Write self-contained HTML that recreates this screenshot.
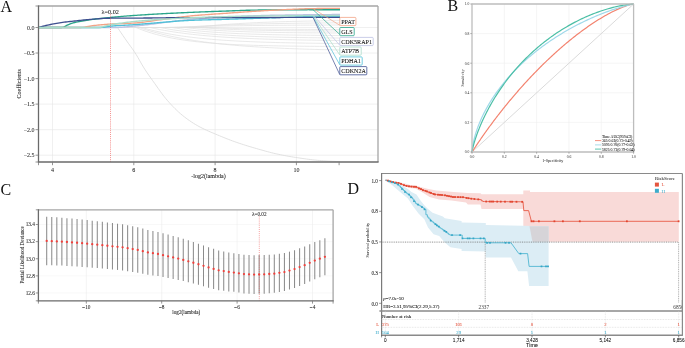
<!DOCTYPE html>
<html><head><meta charset="utf-8"><style>
html,body{margin:0;padding:0;background:#fff;width:685px;height:348px;overflow:hidden;}
svg{display:block;filter:blur(0.45px);}

</style></head><body>
<svg width="685" height="348" viewBox="0 0 685 348">
<rect width="685" height="348" fill="#fff"/>
<text x="0.6" y="11.6" font-size="16" fill="#111"  text-anchor="start" font-family='"Liberation Serif", serif' >A</text>
<text x="447.6" y="11.2" font-size="16" fill="#111"  text-anchor="start" font-family='"Liberation Serif", serif' >B</text>
<text x="0.6" y="194.6" font-size="16" fill="#111"  text-anchor="start" font-family='"Liberation Serif", serif' >C</text>
<text x="347.6" y="194.4" font-size="16" fill="#111"  text-anchor="start" font-family='"Liberation Serif", serif' >D</text>
<line x1="52.5" y1="6" x2="52.5" y2="162" stroke="#e6e6e6" stroke-width="0.6" />
<line x1="133.8" y1="6" x2="133.8" y2="162" stroke="#e6e6e6" stroke-width="0.6" />
<line x1="215.1" y1="6" x2="215.1" y2="162" stroke="#e6e6e6" stroke-width="0.6" />
<line x1="296.4" y1="6" x2="296.4" y2="162" stroke="#e6e6e6" stroke-width="0.6" />
<line x1="38.5" y1="27.5" x2="378" y2="27.5" stroke="#e6e6e6" stroke-width="0.6" />
<line x1="38.5" y1="53.04" x2="378" y2="53.04" stroke="#e6e6e6" stroke-width="0.6" />
<line x1="38.5" y1="78.58" x2="378" y2="78.58" stroke="#e6e6e6" stroke-width="0.6" />
<line x1="38.5" y1="104.12" x2="378" y2="104.12" stroke="#e6e6e6" stroke-width="0.6" />
<line x1="38.5" y1="129.66" x2="378" y2="129.66" stroke="#e6e6e6" stroke-width="0.6" />
<line x1="38.5" y1="155.2" x2="378" y2="155.2" stroke="#e6e6e6" stroke-width="0.6" />
<polyline points="38.5,27.5 136,27.5 141.1,29.56 146.2,31.4 151.3,33.04 156.4,34.5 161.5,35.81 166.6,36.98 171.7,38.02 176.8,38.95 181.9,39.78 187,40.52 192.1,41.19 197.2,41.78 202.3,42.31 207.4,42.78 212.5,43.2 217.6,43.57 222.7,43.91 227.8,44.21 232.9,44.48 238,44.72 243.1,44.93 248.2,45.12 253.3,45.29 258.4,45.44 263.5,45.58 268.6,45.7 273.7,45.81 278.8,45.9 283.9,45.99 289,46.07 294.1,46.13 299.2,46.2 304.3,46.25 309.4,46.3 314.5,46.34 319.6,46.38 324.7,46.42 329.8,46.45 334.9,46.48 340,46.5" fill="none" stroke="#e0e0e0" stroke-width="0.7" stroke-linejoin="round" />
<polyline points="38.5,27.5 139,27.5 144.03,29.15 149.05,30.69 154.07,32.12 159.1,33.45 164.12,34.69 169.15,35.85 174.18,36.92 179.2,37.92 184.22,38.85 189.25,39.72 194.28,40.52 199.3,41.27 204.32,41.97 209.35,42.62 214.38,43.22 219.4,43.79 224.43,44.31 229.45,44.8 234.47,45.25 239.5,45.68 244.53,46.07 249.55,46.43 254.57,46.77 259.6,47.09 264.62,47.39 269.65,47.66 274.68,47.92 279.7,48.15 284.73,48.38 289.75,48.58 294.77,48.77 299.8,48.95 304.82,49.12 309.85,49.27 314.88,49.42 319.9,49.55 324.93,49.68 329.95,49.79 334.98,49.9 340,50" fill="none" stroke="#e0e0e0" stroke-width="0.7" stroke-linejoin="round" />
<polyline points="38.5,27.5 142,27.5 146.95,28.92 151.9,30.21 156.85,31.39 161.8,32.47 166.75,33.46 171.7,34.36 176.65,35.19 181.6,35.94 186.55,36.63 191.5,37.26 196.45,37.84 201.4,38.36 206.35,38.84 211.3,39.28 216.25,39.69 221.2,40.05 226.15,40.39 231.1,40.69 236.05,40.97 241,41.23 245.95,41.46 250.9,41.68 255.85,41.87 260.8,42.05 265.75,42.22 270.7,42.36 275.65,42.5 280.6,42.63 285.55,42.74 290.5,42.84 295.45,42.94 300.4,43.03 305.35,43.11 310.3,43.18 315.25,43.24 320.2,43.31 325.15,43.36 330.1,43.41 335.05,43.46 340,43.5" fill="none" stroke="#e0e0e0" stroke-width="0.7" stroke-linejoin="round" />
<polyline points="38.5,27.5 150,27.5 154.75,28.53 159.5,29.49 164.25,30.37 169,31.18 173.75,31.94 178.5,32.63 183.25,33.27 188,33.87 192.75,34.42 197.5,34.92 202.25,35.39 207,35.82 211.75,36.22 216.5,36.59 221.25,36.93 226,37.25 230.75,37.54 235.5,37.81 240.25,38.06 245,38.29 249.75,38.5 254.5,38.69 259.25,38.87 264,39.04 268.75,39.2 273.5,39.34 278.25,39.47 283,39.59 287.75,39.71 292.5,39.81 297.25,39.91 302,39.99 306.75,40.08 311.5,40.15 316.25,40.22 321,40.29 325.75,40.35 330.5,40.4 335.25,40.45 340,40.5" fill="none" stroke="#e0e0e0" stroke-width="0.7" stroke-linejoin="round" />
<polyline points="38.5,27.5 160,27.5 164.5,28.36 169,29.15 173.5,29.88 178,30.55 182.5,31.16 187,31.73 191.5,32.26 196,32.74 200.5,33.19 205,33.6 209.5,33.98 214,34.33 218.5,34.65 223,34.94 227.5,35.21 232,35.47 236.5,35.7 241,35.91 245.5,36.11 250,36.29 254.5,36.46 259,36.61 263.5,36.75 268,36.88 272.5,37 277,37.11 281.5,37.22 286,37.31 290.5,37.4 295,37.48 299.5,37.55 304,37.62 308.5,37.68 313,37.74 317.5,37.79 322,37.84 326.5,37.88 331,37.93 335.5,37.96 340,38" fill="none" stroke="#e0e0e0" stroke-width="0.7" stroke-linejoin="round" />
<polyline points="38.5,27.5 172,27.5 176.2,28.17 180.4,28.78 184.6,29.35 188.8,29.87 193,30.34 197.2,30.78 201.4,31.18 205.6,31.56 209.8,31.9 214,32.21 218.2,32.5 222.4,32.76 226.6,33.01 230.8,33.23 235,33.44 239.2,33.63 243.4,33.8 247.6,33.96 251.8,34.11 256,34.24 260.2,34.37 264.4,34.48 268.6,34.59 272.8,34.68 277,34.77 281.2,34.85 285.4,34.93 289.6,35 293.8,35.06 298,35.12 302.2,35.17 306.4,35.22 310.6,35.27 314.8,35.31 319,35.35 323.2,35.39 327.4,35.42 331.6,35.45 335.8,35.47 340,35.5" fill="none" stroke="#e0e0e0" stroke-width="0.7" stroke-linejoin="round" />
<polyline points="38.5,27.5 185,27.5 188.88,27.97 192.75,28.4 196.62,28.79 200.5,29.16 204.38,29.49 208.25,29.79 212.12,30.07 216,30.33 219.88,30.56 223.75,30.78 227.62,30.98 231.5,31.16 235.38,31.33 239.25,31.48 243.12,31.62 247,31.75 250.88,31.87 254.75,31.98 258.62,32.07 262.5,32.17 266.38,32.25 270.25,32.33 274.12,32.4 278,32.46 281.88,32.52 285.75,32.58 289.62,32.63 293.5,32.67 297.38,32.71 301.25,32.75 305.12,32.79 309,32.82 312.88,32.85 316.75,32.88 320.62,32.9 324.5,32.93 328.38,32.95 332.25,32.97 336.12,32.98 340,33" fill="none" stroke="#e0e0e0" stroke-width="0.7" stroke-linejoin="round" />
<polyline points="38.5,27.5 198,27.5 201.55,27.78 205.1,28.03 208.65,28.27 212.2,28.49 215.75,28.69 219.3,28.88 222.85,29.05 226.4,29.21 229.95,29.36 233.5,29.49 237.05,29.62 240.6,29.74 244.15,29.84 247.7,29.94 251.25,30.04 254.8,30.12 258.35,30.2 261.9,30.27 265.45,30.34 269,30.4 272.55,30.46 276.1,30.51 279.65,30.56 283.2,30.61 286.75,30.65 290.3,30.69 293.85,30.72 297.4,30.75 300.95,30.78 304.5,30.81 308.05,30.84 311.6,30.86 315.15,30.89 318.7,30.91 322.25,30.92 325.8,30.94 329.35,30.96 332.9,30.97 336.45,30.99 340,31" fill="none" stroke="#e0e0e0" stroke-width="0.7" stroke-linejoin="round" />
<polyline points="38.5,27.5 210,27.5 213.25,27.66 216.5,27.81 219.75,27.95 223,28.08 226.25,28.19 229.5,28.3 232.75,28.4 236,28.49 239.25,28.58 242.5,28.66 245.75,28.73 249,28.8 252.25,28.86 255.5,28.91 258.75,28.97 262,29.01 265.25,29.06 268.5,29.1 271.75,29.14 275,29.17 278.25,29.2 281.5,29.23 284.75,29.26 288,29.28 291.25,29.31 294.5,29.33 297.75,29.35 301,29.37 304.25,29.38 307.5,29.4 310.75,29.41 314,29.43 317.25,29.44 320.5,29.45 323.75,29.46 327,29.47 330.25,29.48 333.5,29.49 336.75,29.49 340,29.5" fill="none" stroke="#e0e0e0" stroke-width="0.7" stroke-linejoin="round" />
<polyline points="38.5,27.5 165,27.5 169.38,27.33 173.75,27.18 178.12,27.03 182.5,26.9 186.88,26.77 191.25,26.65 195.62,26.53 200,26.43 204.38,26.33 208.75,26.23 213.12,26.15 217.5,26.06 221.88,25.99 226.25,25.91 230.62,25.84 235,25.78 239.38,25.72 243.75,25.66 248.12,25.61 252.5,25.56 256.88,25.51 261.25,25.47 265.62,25.42 270,25.38 274.38,25.35 278.75,25.31 283.12,25.28 287.5,25.25 291.88,25.22 296.25,25.19 300.62,25.17 305,25.15 309.38,25.12 313.75,25.1 318.12,25.08 322.5,25.06 326.88,25.05 331.25,25.03 335.62,25.01 340,25" fill="none" stroke="#e0e0e0" stroke-width="0.7" stroke-linejoin="round" />
<polyline points="38.5,27.5 180,27.5 184,27.21 188,26.93 192,26.68 196,26.43 200,26.2 204,25.98 208,25.78 212,25.58 216,25.4 220,25.22 224,25.06 228,24.9 232,24.76 236,24.62 240,24.49 244,24.36 248,24.25 252,24.14 256,24.03 260,23.94 264,23.84 268,23.76 272,23.67 276,23.6 280,23.52 284,23.45 288,23.39 292,23.32 296,23.27 300,23.21 304,23.16 308,23.11 312,23.06 316,23.02 320,22.98 324,22.94 328,22.9 332,22.86 336,22.83 340,22.8" fill="none" stroke="#e0e0e0" stroke-width="0.7" stroke-linejoin="round" />
<polyline points="38.5,27.5 195,27.5 198.62,27.06 202.25,26.64 205.88,26.24 209.5,25.87 213.12,25.52 216.75,25.2 220.38,24.89 224,24.6 227.62,24.32 231.25,24.06 234.88,23.82 238.5,23.59 242.12,23.38 245.75,23.18 249.38,22.99 253,22.81 256.62,22.64 260.25,22.48 263.88,22.33 267.5,22.19 271.12,22.05 274.75,21.93 278.38,21.81 282,21.7 285.62,21.6 289.25,21.5 292.88,21.41 296.5,21.32 300.12,21.24 303.75,21.16 307.38,21.09 311,21.02 314.62,20.96 318.25,20.9 321.88,20.84 325.5,20.78 329.12,20.73 332.75,20.69 336.38,20.64 340,20.6" fill="none" stroke="#e0e0e0" stroke-width="0.7" stroke-linejoin="round" />
<polyline points="117.5,27.5 119.35,30.27 121.21,33.01 123.06,35.73 124.92,38.43 126.77,41.1 128.62,43.68 130.48,46.22 132.33,48.79 134.19,51.46 136.04,54.32 137.9,57.44 139.75,60.72 141.6,64 143.46,67.13 145.31,70.03 147.17,72.81 149.02,75.5 150.88,78.13 152.73,80.72 154.58,83.32 156.44,85.94 158.29,88.57 160.15,91.17 162,93.71 163.85,96.16 165.71,98.48 167.56,100.64 169.42,102.72 171.27,104.74 173.12,106.69 174.98,108.58 176.83,110.38 178.69,112.11 180.54,113.76 182.4,115.31 184.25,116.78 186.1,118.2 187.96,119.55 189.81,120.85 191.67,122.1 193.52,123.29 195.38,124.43 197.23,125.51 199.08,126.55 200.94,127.53 202.79,128.46 204.65,129.36 206.5,130.22 208.35,131.05 210.21,131.86 212.06,132.65 213.92,133.43 215.77,134.21 217.62,134.99 219.48,135.76 221.33,136.53 223.19,137.28 225.04,138.03 226.9,138.76 228.75,139.48 230.6,140.19 232.46,140.88 234.31,141.55 236.17,142.21 238.02,142.85 239.88,143.47 241.73,144.09 243.58,144.68 245.44,145.27 247.29,145.85 249.15,146.41 251,146.97 252.85,147.52 254.71,148.06 256.56,148.59 258.42,149.12 260.27,149.65 262.12,150.17 263.98,150.69 265.83,151.21 267.69,151.71 269.54,152.2 271.4,152.68 273.25,153.14 275.1,153.58 276.96,153.99 278.81,154.39 280.67,154.77 282.52,155.15 284.38,155.51 286.23,155.86 288.08,156.2 289.94,156.52 291.79,156.84 293.65,157.14 295.5,157.42 297.35,157.7 299.21,157.98 301.06,158.25 302.92,158.52 304.77,158.78 306.62,159.04 308.48,159.29 310.33,159.52 312.19,159.75 314.04,159.96 315.9,160.15 317.75,160.33 319.6,160.49 321.46,160.63 323.31,160.76 325.17,160.89 327.02,161.01 328.88,161.13 330.73,161.23 332.58,161.33 334.44,161.42 336.29,161.49 338.15,161.55 340,161.6" fill="none" stroke="#d8d8d8" stroke-width="0.75" stroke-linejoin="round" />
<polyline points="38.5,27.5 40.01,27.5 41.52,27.5 43.02,27.5 44.53,27.5 46.04,27.5 47.55,27.5 49.05,27.5 50.56,27.5 52.07,27.5 53.58,27.5 55.08,27.5 56.59,27.5 58.1,27.5 59.61,27.5 61.11,27.5 62.62,27.5 64.13,27.5 65.64,27.5 67.14,27.5 68.65,27.5 70.16,27.5 71.66,27.5 73.17,27.5 74.68,27.5 76.19,27.5 77.69,27.5 79.2,27.5 80.71,27.5 82.22,27.5 83.72,27.5 85.23,27.5 86.74,27.5 88.25,27.5 89.75,27.5 91.26,27.5 92.77,27.5 94.28,27.5 95.78,27.5 97.29,27.5 98.8,27.5 100.31,27.5 101.81,27.5 103.32,27.5 104.83,27.5 106.34,27.5 107.84,27.5 109.35,27.5 110.86,27.5 112.37,27.5 113.88,27.5 115.38,27.5 116.89,27.48 118.4,27.43 119.91,27.35 121.41,27.26 122.92,27.15 124.43,27.02 125.94,26.89 127.44,26.74 128.95,26.59 130.46,26.44 131.97,26.29 133.47,26.14 134.98,26 136.49,25.86 138,25.72 139.5,25.57 141.01,25.41 142.52,25.25 144.03,25.08 145.53,24.9 147.04,24.72 148.55,24.54 150.06,24.35 151.56,24.16 153.07,23.97 154.58,23.78 156.08,23.58 157.59,23.38 159.1,23.18 160.61,22.98 162.12,22.77 163.62,22.57 165.13,22.37 166.64,22.17 168.15,21.97 169.65,21.77 171.16,21.58 172.67,21.39 174.18,21.2 175.68,21.01 177.19,20.83 178.7,20.65 180.21,20.48 181.71,20.31 183.22,20.15 184.73,19.99 186.24,19.84 187.74,19.7 189.25,19.56 190.76,19.44 192.26,19.31 193.77,19.19 195.28,19.06 196.79,18.94 198.29,18.82 199.8,18.71 201.31,18.59 202.82,18.48 204.32,18.37 205.83,18.26 207.34,18.15 208.85,18.05 210.35,17.94 211.86,17.84 213.37,17.74 214.88,17.65 216.38,17.55 217.89,17.46 219.4,17.37 220.91,17.28 222.41,17.2 223.92,17.11 225.43,17.03 226.94,16.95 228.44,16.88 229.95,16.8 231.46,16.73 232.97,16.66 234.47,16.59 235.98,16.52 237.49,16.45 239,16.38 240.5,16.31 242.01,16.24 243.52,16.18 245.03,16.11 246.53,16.05 248.04,15.99 249.55,15.93 251.06,15.87 252.56,15.81 254.07,15.76 255.58,15.7 257.09,15.65 258.6,15.6 260.1,15.56 261.61,15.51 263.12,15.47 264.62,15.43 266.13,15.39 267.64,15.35 269.15,15.32 270.65,15.29 272.16,15.26 273.67,15.23 275.18,15.2 276.69,15.17 278.19,15.15 279.7,15.12 281.21,15.09 282.72,15.07 284.22,15.05 285.73,15.02 287.24,15 288.75,14.98 290.25,14.96 291.76,14.94 293.27,14.92 294.77,14.9 296.28,14.88 297.79,14.86 299.3,14.84 300.81,14.83 302.31,14.81 303.82,14.79 305.33,14.78 306.83,14.76 308.34,14.75 309.85,14.73 311.36,14.72 312.87,14.7 314.37,14.69 315.88,14.67 317.39,14.66 318.89,14.65 320.4,14.63 321.91,14.62 323.42,14.61 324.93,14.6 326.43,14.59 327.94,14.57 329.45,14.56 330.95,14.55 332.46,14.54 333.97,14.53 335.48,14.52 336.99,14.52 338.49,14.51 340,14.5" fill="none" stroke="#bcc2e2" stroke-width="1.35" stroke-linejoin="round" />
<polyline points="38.5,27.5 40.01,27.5 41.52,27.5 43.02,27.5 44.53,27.5 46.04,27.5 47.55,27.5 49.05,27.5 50.56,27.5 52.07,27.5 53.58,27.5 55.08,27.5 56.59,27.5 58.1,27.5 59.61,27.5 61.11,27.5 62.62,27.5 64.13,27.5 65.64,27.5 67.14,27.5 68.65,27.5 70.16,27.5 71.66,27.5 73.17,27.5 74.68,27.5 76.19,27.5 77.69,27.5 79.2,27.5 80.71,27.5 82.22,27.5 83.72,27.5 85.23,27.5 86.74,27.5 88.25,27.5 89.75,27.5 91.26,27.5 92.77,27.5 94.28,27.5 95.78,27.5 97.29,27.5 98.8,27.5 100.31,27.5 101.81,27.41 103.32,27.23 104.83,26.99 106.34,26.73 107.84,26.47 109.35,26.27 110.86,26.12 112.37,26 113.88,25.88 115.38,25.77 116.89,25.67 118.4,25.57 119.91,25.48 121.41,25.4 122.92,25.31 124.43,25.23 125.94,25.14 127.44,25.06 128.95,24.98 130.46,24.89 131.97,24.8 133.47,24.7 134.98,24.6 136.49,24.5 138,24.39 139.5,24.27 141.01,24.16 142.52,24.04 144.03,23.92 145.53,23.79 147.04,23.67 148.55,23.54 150.06,23.41 151.56,23.28 153.07,23.14 154.58,23.01 156.08,22.88 157.59,22.75 159.1,22.61 160.61,22.48 162.12,22.35 163.62,22.22 165.13,22.09 166.64,21.96 168.15,21.84 169.65,21.71 171.16,21.59 172.67,21.47 174.18,21.36 175.68,21.25 177.19,21.14 178.7,21.03 180.21,20.93 181.71,20.84 183.22,20.74 184.73,20.66 186.24,20.58 187.74,20.5 189.25,20.43 190.76,20.37 192.26,20.31 193.77,20.25 195.28,20.19 196.79,20.14 198.29,20.09 199.8,20.04 201.31,19.99 202.82,19.95 204.32,19.9 205.83,19.86 207.34,19.82 208.85,19.78 210.35,19.74 211.86,19.7 213.37,19.66 214.88,19.62 216.38,19.58 217.89,19.54 219.4,19.5 220.91,19.46 222.41,19.42 223.92,19.38 225.43,19.34 226.94,19.29 228.44,19.25 229.95,19.2 231.46,19.15 232.97,19.11 234.47,19.06 235.98,19.01 237.49,18.96 239,18.91 240.5,18.86 242.01,18.81 243.52,18.76 245.03,18.72 246.53,18.67 248.04,18.62 249.55,18.57 251.06,18.52 252.56,18.47 254.07,18.42 255.58,18.37 257.09,18.32 258.6,18.27 260.1,18.22 261.61,18.17 263.12,18.12 264.62,18.07 266.13,18.02 267.64,17.97 269.15,17.93 270.65,17.88 272.16,17.83 273.67,17.78 275.18,17.73 276.69,17.68 278.19,17.63 279.7,17.58 281.21,17.52 282.72,17.47 284.22,17.42 285.73,17.36 287.24,17.31 288.75,17.26 290.25,17.21 291.76,17.16 293.27,17.11 294.77,17.06 296.28,17.01 297.79,16.96 299.3,16.92 300.81,16.87 302.31,16.83 303.82,16.79 305.33,16.76 306.83,16.72 308.34,16.69 309.85,16.66 311.36,16.63 312.87,16.6 314.37,16.58 315.88,16.56 317.39,16.53 318.89,16.51 320.4,16.49 321.91,16.47 323.42,16.45 324.93,16.43 326.43,16.41 327.94,16.39 329.45,16.38 330.95,16.36 332.46,16.35 333.97,16.34 335.48,16.32 336.99,16.31 338.49,16.31 340,16.3" fill="none" stroke="#4fc0d8" stroke-width="1.35" stroke-linejoin="round" />
<polyline points="38.5,27.5 40.01,27.5 41.52,27.5 43.02,27.5 44.53,27.5 46.04,27.5 47.55,27.5 49.05,27.5 50.56,27.5 52.07,27.5 53.58,27.5 55.08,27.5 56.59,27.5 58.1,27.5 59.61,27.5 61.11,27.5 62.62,27.44 64.13,26.91 65.64,26.07 67.14,25.2 68.65,24.55 70.16,23.96 71.66,23.41 73.17,22.91 74.68,22.48 76.19,22.12 77.69,21.8 79.2,21.5 80.71,21.22 82.22,20.96 83.72,20.71 85.23,20.48 86.74,20.26 88.25,20.05 89.75,19.83 91.26,19.63 92.77,19.43 94.28,19.23 95.78,19.04 97.29,18.86 98.8,18.68 100.31,18.51 101.81,18.34 103.32,18.18 104.83,18.02 106.34,17.87 107.84,17.71 109.35,17.56 110.86,17.42 112.37,17.27 113.88,17.13 115.38,16.99 116.89,16.85 118.4,16.71 119.91,16.58 121.41,16.45 122.92,16.32 124.43,16.2 125.94,16.07 127.44,15.95 128.95,15.84 130.46,15.72 131.97,15.61 133.47,15.51 134.98,15.4 136.49,15.3 138,15.2 139.5,15.1 141.01,15 142.52,14.91 144.03,14.81 145.53,14.72 147.04,14.62 148.55,14.53 150.06,14.44 151.56,14.35 153.07,14.26 154.58,14.18 156.08,14.09 157.59,14 159.1,13.92 160.61,13.84 162.12,13.76 163.62,13.68 165.13,13.6 166.64,13.52 168.15,13.44 169.65,13.36 171.16,13.29 172.67,13.21 174.18,13.14 175.68,13.06 177.19,12.99 178.7,12.92 180.21,12.85 181.71,12.77 183.22,12.71 184.73,12.64 186.24,12.57 187.74,12.5 189.25,12.43 190.76,12.37 192.26,12.3 193.77,12.24 195.28,12.18 196.79,12.11 198.29,12.05 199.8,11.99 201.31,11.93 202.82,11.88 204.32,11.82 205.83,11.76 207.34,11.71 208.85,11.65 210.35,11.6 211.86,11.54 213.37,11.49 214.88,11.44 216.38,11.38 217.89,11.33 219.4,11.28 220.91,11.22 222.41,11.17 223.92,11.12 225.43,11.06 226.94,11.01 228.44,10.96 229.95,10.9 231.46,10.85 232.97,10.79 234.47,10.73 235.98,10.67 237.49,10.61 239,10.55 240.5,10.49 242.01,10.44 243.52,10.38 245.03,10.33 246.53,10.29 248.04,10.25 249.55,10.21 251.06,10.18 252.56,10.15 254.07,10.12 255.58,10.09 257.09,10.06 258.6,10.04 260.1,10.01 261.61,9.99 263.12,9.97 264.62,9.95 266.13,9.94 267.64,9.92 269.15,9.91 270.65,9.9 272.16,9.88 273.67,9.87 275.18,9.86 276.69,9.85 278.19,9.84 279.7,9.83 281.21,9.82 282.72,9.81 284.22,9.8 285.73,9.79 287.24,9.78 288.75,9.77 290.25,9.77 291.76,9.76 293.27,9.75 294.77,9.74 296.28,9.74 297.79,9.73 299.3,9.73 300.81,9.72 302.31,9.72 303.82,9.71 305.33,9.71 306.83,9.71 308.34,9.7 309.85,9.7 311.36,9.7 312.87,9.7 314.37,9.7 315.88,9.7 317.39,9.7 318.89,9.7 320.4,9.7 321.91,9.7 323.42,9.7 324.93,9.7 326.43,9.7 327.94,9.7 329.45,9.7 330.95,9.7 332.46,9.7 333.97,9.7 335.48,9.7 336.99,9.7 338.49,9.7 340,9.7" fill="none" stroke="#2aa58a" stroke-width="1.35" stroke-linejoin="round" />
<polyline points="38.5,27.5 40.01,27.5 41.52,27.5 43.02,27.5 44.53,27.5 46.04,27.5 47.55,27.5 49.05,27.5 50.56,27.5 52.07,27.5 53.58,27.5 55.08,27.5 56.59,27.5 58.1,27.5 59.61,27.5 61.11,27.5 62.62,27.5 64.13,27.5 65.64,27.5 67.14,27.5 68.65,27.5 70.16,27.5 71.66,27.5 73.17,27.5 74.68,27.5 76.19,27.5 77.69,27.5 79.2,27.5 80.71,27.49 82.22,27.41 83.72,27.25 85.23,27.04 86.74,26.79 88.25,26.51 89.75,26.23 91.26,25.95 92.77,25.7 94.28,25.48 95.78,25.32 97.29,25.16 98.8,25.01 100.31,24.86 101.81,24.72 103.32,24.59 104.83,24.47 106.34,24.35 107.84,24.24 109.35,24.14 110.86,24.05 112.37,23.97 113.88,23.9 115.38,23.83 116.89,23.77 118.4,23.71 119.91,23.66 121.41,23.6 122.92,23.55 124.43,23.5 125.94,23.44 127.44,23.39 128.95,23.32 130.46,23.25 131.97,23.18 133.47,23.09 134.98,23 136.49,22.89 138,22.76 139.5,22.61 141.01,22.45 142.52,22.27 144.03,22.07 145.53,21.87 147.04,21.66 148.55,21.44 150.06,21.22 151.56,21 153.07,20.77 154.58,20.55 156.08,20.33 157.59,20.12 159.1,19.92 160.61,19.72 162.12,19.53 163.62,19.33 165.13,19.13 166.64,18.92 168.15,18.71 169.65,18.51 171.16,18.3 172.67,18.1 174.18,17.89 175.68,17.69 177.19,17.49 178.7,17.29 180.21,17.1 181.71,16.91 183.22,16.73 184.73,16.56 186.24,16.39 187.74,16.23 189.25,16.07 190.76,15.93 192.26,15.79 193.77,15.65 195.28,15.52 196.79,15.39 198.29,15.27 199.8,15.15 201.31,15.03 202.82,14.91 204.32,14.8 205.83,14.68 207.34,14.57 208.85,14.47 210.35,14.36 211.86,14.25 213.37,14.15 214.88,14.04 216.38,13.94 217.89,13.84 219.4,13.74 220.91,13.63 222.41,13.53 223.92,13.43 225.43,13.32 226.94,13.22 228.44,13.11 229.95,13 231.46,12.89 232.97,12.79 234.47,12.68 235.98,12.57 237.49,12.46 239,12.35 240.5,12.25 242.01,12.14 243.52,12.03 245.03,11.93 246.53,11.83 248.04,11.73 249.55,11.63 251.06,11.53 252.56,11.43 254.07,11.34 255.58,11.24 257.09,11.15 258.6,11.05 260.1,10.96 261.61,10.87 263.12,10.78 264.62,10.69 266.13,10.61 267.64,10.52 269.15,10.44 270.65,10.37 272.16,10.29 273.67,10.21 275.18,10.14 276.69,10.06 278.19,9.98 279.7,9.9 281.21,9.82 282.72,9.75 284.22,9.67 285.73,9.6 287.24,9.52 288.75,9.45 290.25,9.38 291.76,9.31 293.27,9.24 294.77,9.17 296.28,9.11 297.79,9.05 299.3,8.99 300.81,8.93 302.31,8.88 303.82,8.83 305.33,8.78 306.83,8.74 308.34,8.7 309.85,8.66 311.36,8.63 312.87,8.6 314.37,8.58 315.88,8.55 317.39,8.53 318.89,8.5 320.4,8.48 321.91,8.46 323.42,8.43 324.93,8.41 326.43,8.39 327.94,8.38 329.45,8.36 330.95,8.34 332.46,8.33 333.97,8.32 335.48,8.31 336.99,8.31 338.49,8.3 340,8.3" fill="none" stroke="#f2a386" stroke-width="1.35" stroke-linejoin="round" />
<polyline points="38.5,27.5 40.01,27.07 41.52,26.65 43.02,26.25 44.53,25.86 46.04,25.49 47.55,25.13 49.05,24.8 50.56,24.49 52.07,24.18 53.58,23.89 55.08,23.61 56.59,23.34 58.1,23.09 59.61,22.84 61.11,22.61 62.62,22.39 64.13,22.18 65.64,21.99 67.14,21.82 68.65,21.66 70.16,21.5 71.66,21.35 73.17,21.19 74.68,21.03 76.19,20.87 77.69,20.7 79.2,20.52 80.71,20.35 82.22,20.18 83.72,20.01 85.23,19.84 86.74,19.69 88.25,19.55 89.75,19.42 91.26,19.3 92.77,19.18 94.28,19.06 95.78,18.94 97.29,18.82 98.8,18.71 100.31,18.6 101.81,18.51 103.32,18.42 104.83,18.34 106.34,18.28 107.84,18.24 109.35,18.21 110.86,18.19 112.37,18.18 113.88,18.17 115.38,18.17 116.89,18.16 118.4,18.15 119.91,18.15 121.41,18.15 122.92,18.14 124.43,18.14 125.94,18.13 127.44,18.13 128.95,18.12 130.46,18.12 131.97,18.11 133.47,18.11 134.98,18.1 136.49,18.09 138,18.08 139.5,18.07 141.01,18.06 142.52,18.05 144.03,18.04 145.53,18.02 147.04,18.01 148.55,17.99 150.06,17.98 151.56,17.96 153.07,17.95 154.58,17.93 156.08,17.91 157.59,17.9 159.1,17.88 160.61,17.86 162.12,17.84 163.62,17.83 165.13,17.81 166.64,17.79 168.15,17.78 169.65,17.76 171.16,17.74 172.67,17.73 174.18,17.71 175.68,17.7 177.19,17.69 178.7,17.67 180.21,17.66 181.71,17.65 183.22,17.64 184.73,17.63 186.24,17.62 187.74,17.61 189.25,17.6 190.76,17.6 192.26,17.59 193.77,17.59 195.28,17.58 196.79,17.58 198.29,17.57 199.8,17.57 201.31,17.56 202.82,17.56 204.32,17.55 205.83,17.55 207.34,17.55 208.85,17.54 210.35,17.54 211.86,17.54 213.37,17.53 214.88,17.53 216.38,17.53 217.89,17.52 219.4,17.52 220.91,17.52 222.41,17.51 223.92,17.51 225.43,17.51 226.94,17.51 228.44,17.5 229.95,17.5 231.46,17.5 232.97,17.5 234.47,17.49 235.98,17.49 237.49,17.49 239,17.49 240.5,17.48 242.01,17.48 243.52,17.48 245.03,17.48 246.53,17.48 248.04,17.48 249.55,17.47 251.06,17.47 252.56,17.47 254.07,17.47 255.58,17.47 257.09,17.47 258.6,17.46 260.1,17.46 261.61,17.46 263.12,17.46 264.62,17.46 266.13,17.46 267.64,17.46 269.15,17.46 270.65,17.45 272.16,17.45 273.67,17.45 275.18,17.45 276.69,17.45 278.19,17.45 279.7,17.45 281.21,17.44 282.72,17.44 284.22,17.44 285.73,17.44 287.24,17.44 288.75,17.44 290.25,17.43 291.76,17.43 293.27,17.43 294.77,17.43 296.28,17.43 297.79,17.43 299.3,17.42 300.81,17.42 302.31,17.42 303.82,17.42 305.33,17.41 306.83,17.41 308.34,17.41 309.85,17.41 311.36,17.4 312.87,17.4 314.37,17.4 315.88,17.39 317.39,17.39 318.89,17.38 320.4,17.38 321.91,17.38 323.42,17.37 324.93,17.36 326.43,17.36 327.94,17.35 329.45,17.35 330.95,17.34 332.46,17.33 333.97,17.33 335.48,17.32 336.99,17.31 338.49,17.31 340,17.3" fill="none" stroke="#3e4f8f" stroke-width="1.35" stroke-linejoin="round" />
<polyline points="38.5,27.5 40.01,27.5 41.52,27.5 43.02,27.5 44.53,27.5 46.04,27.5 47.55,27.5 49.05,27.5 50.56,27.5 52.07,27.5 53.58,27.5 55.08,27.5 56.59,27.5 58.1,27.5 59.61,27.5 61.11,27.5 62.62,27.5 64.13,27.5 65.64,27.5 67.14,27.5 68.65,27.5 70.16,27.5 71.66,27.5 73.17,27.5 74.68,27.5 76.19,27.5 77.69,27.5 79.2,27.5 80.71,27.5 82.22,27.5 83.72,27.5 85.23,27.5 86.74,27.5 88.25,27.5 89.75,27.5 91.26,27.5 92.77,27.5 94.28,27.5 95.78,27.5 97.29,27.5 98.8,27.48 100.31,27.31 101.81,27.02 103.32,26.65 104.83,26.22 106.34,25.79 107.84,25.37 109.35,25.02 110.86,24.75 112.37,24.49 113.88,24.24 115.38,23.99 116.89,23.75 118.4,23.51 119.91,23.28 121.41,23.05 122.92,22.84 124.43,22.63 125.94,22.43 127.44,22.23 128.95,22.05 130.46,21.87 131.97,21.7 133.47,21.55 134.98,21.4 136.49,21.26 138,21.13 139.5,20.99 141.01,20.86 142.52,20.73 144.03,20.6 145.53,20.48 147.04,20.36 148.55,20.24 150.06,20.12 151.56,20.01 153.07,19.9 154.58,19.79 156.08,19.68 157.59,19.58 159.1,19.47 160.61,19.37 162.12,19.28 163.62,19.18 165.13,19.09 166.64,18.99 168.15,18.9 169.65,18.82 171.16,18.73 172.67,18.64 174.18,18.56 175.68,18.48 177.19,18.4 178.7,18.33 180.21,18.25 181.71,18.18 183.22,18.1 184.73,18.03 186.24,17.97 187.74,17.9 189.25,17.83 190.76,17.77 192.26,17.7 193.77,17.64 195.28,17.58 196.79,17.52 198.29,17.46 199.8,17.4 201.31,17.35 202.82,17.29 204.32,17.23 205.83,17.18 207.34,17.13 208.85,17.08 210.35,17.03 211.86,16.98 213.37,16.93 214.88,16.89 216.38,16.84 217.89,16.8 219.4,16.75 220.91,16.71 222.41,16.68 223.92,16.64 225.43,16.6 226.94,16.57 228.44,16.53 229.95,16.5 231.46,16.47 232.97,16.44 234.47,16.41 235.98,16.38 237.49,16.35 239,16.33 240.5,16.3 242.01,16.27 243.52,16.25 245.03,16.22 246.53,16.2 248.04,16.18 249.55,16.15 251.06,16.13 252.56,16.11 254.07,16.09 255.58,16.07 257.09,16.05 258.6,16.03 260.1,16.01 261.61,15.99 263.12,15.97 264.62,15.96 266.13,15.94 267.64,15.92 269.15,15.91 270.65,15.89 272.16,15.88 273.67,15.87 275.18,15.85 276.69,15.84 278.19,15.83 279.7,15.81 281.21,15.8 282.72,15.79 284.22,15.78 285.73,15.77 287.24,15.75 288.75,15.74 290.25,15.73 291.76,15.72 293.27,15.71 294.77,15.7 296.28,15.69 297.79,15.68 299.3,15.67 300.81,15.66 302.31,15.66 303.82,15.65 305.33,15.64 306.83,15.63 308.34,15.62 309.85,15.62 311.36,15.61 312.87,15.6 314.37,15.59 315.88,15.59 317.39,15.58 318.89,15.57 320.4,15.57 321.91,15.56 323.42,15.55 324.93,15.55 326.43,15.54 327.94,15.54 329.45,15.53 330.95,15.53 332.46,15.52 333.97,15.52 335.48,15.51 336.99,15.51 338.49,15.5 340,15.5" fill="none" stroke="#a9dcc9" stroke-width="1.35" stroke-linejoin="round" />
<line x1="313" y1="14.7" x2="339.8" y2="45.3" stroke="#bcc2e2" stroke-width="0.7" />
<line x1="313" y1="16.6" x2="339.8" y2="64.8" stroke="#4fc0d8" stroke-width="0.7" />
<line x1="313" y1="9.7" x2="339.8" y2="34.5" stroke="#2aa58a" stroke-width="0.7" />
<line x1="313" y1="8.6" x2="339.8" y2="25.3" stroke="#f2a386" stroke-width="0.7" />
<line x1="313" y1="17.4" x2="339.8" y2="74.7" stroke="#3e4f8f" stroke-width="0.7" />
<line x1="313" y1="15.6" x2="339.8" y2="55" stroke="#a9dcc9" stroke-width="0.7" />
<rect x="339.8" y="17.4" width="16.1" height="8.2" rx="0.8" fill="#fff" stroke="#f2a386" stroke-width="0.8"/>
<text x="341.2" y="23.7" font-size="6.1" fill="#0c0c0c" stroke="#0c0c0c" stroke-width="0.06" text-anchor="start" font-family='"Liberation Serif", serif' >PPAT</text>
<rect x="339.8" y="27.5" width="14.4" height="8.2" rx="0.8" fill="#fff" stroke="#2aa58a" stroke-width="0.8"/>
<text x="341.2" y="33.8" font-size="6.1" fill="#0c0c0c" stroke="#0c0c0c" stroke-width="0.06" text-anchor="start" font-family='"Liberation Serif", serif' >GLS</text>
<rect x="339.8" y="37.4" width="33.4" height="8.2" rx="0.8" fill="#fff" stroke="#bcc2e2" stroke-width="0.8"/>
<text x="341.2" y="43.7" font-size="6.1" fill="#0c0c0c" stroke="#0c0c0c" stroke-width="0.06" text-anchor="start" font-family='"Liberation Serif", serif' >CDK5RAP1</text>
<rect x="339.8" y="47" width="21.4" height="8.2" rx="0.8" fill="#fff" stroke="#a9dcc9" stroke-width="0.8"/>
<text x="341.2" y="53.3" font-size="6.1" fill="#0c0c0c" stroke="#0c0c0c" stroke-width="0.06" text-anchor="start" font-family='"Liberation Serif", serif' >ATP7B</text>
<rect x="339.8" y="56.9" width="22.4" height="8.2" rx="0.8" fill="#fff" stroke="#4fc0d8" stroke-width="0.8"/>
<text x="341.2" y="63.2" font-size="6.1" fill="#0c0c0c" stroke="#0c0c0c" stroke-width="0.06" text-anchor="start" font-family='"Liberation Serif", serif' >PDHA1</text>
<rect x="339.8" y="66.6" width="27" height="8.2" rx="0.8" fill="#fff" stroke="#3e4f8f" stroke-width="0.8"/>
<text x="341.2" y="72.9" font-size="6.1" fill="#0c0c0c" stroke="#0c0c0c" stroke-width="0.06" text-anchor="start" font-family='"Liberation Serif", serif' >CDKN2A</text>
<line x1="110.5" y1="14.3" x2="110.5" y2="162" stroke="#ef5350" stroke-width="0.65" stroke-dasharray="1.0,1.1"/>
<text x="110.2" y="13.5" font-size="6.2" fill="#161616" stroke="#161616" stroke-width="0.06" text-anchor="middle" font-family='"Liberation Serif", serif' >&#955;=0.02</text>
<line x1="38.5" y1="6" x2="378" y2="6" stroke="#a6a6a6" stroke-width="1.3" />
<line x1="378" y1="6" x2="378" y2="162" stroke="#a6a6a6" stroke-width="1.3" />
<line x1="38.5" y1="5.4" x2="38.5" y2="162.6" stroke="#6a6a6a" stroke-width="1.3" />
<line x1="37.9" y1="162" x2="378.6" y2="162" stroke="#6a6a6a" stroke-width="1.3" />
<line x1="35.5" y1="27.5" x2="38.5" y2="27.5" stroke="#7a7a7a" stroke-width="0.8" />
<text x="34.6" y="29.6" font-size="6" fill="#262626" stroke="#262626" stroke-width="0.06" text-anchor="end" font-family='"Liberation Serif", serif' >0.0</text>
<line x1="35.5" y1="53.04" x2="38.5" y2="53.04" stroke="#7a7a7a" stroke-width="0.8" />
<text x="34.6" y="55.14" font-size="6" fill="#262626" stroke="#262626" stroke-width="0.06" text-anchor="end" font-family='"Liberation Serif", serif' >&#8722;0.5</text>
<line x1="35.5" y1="78.58" x2="38.5" y2="78.58" stroke="#7a7a7a" stroke-width="0.8" />
<text x="34.6" y="80.68" font-size="6" fill="#262626" stroke="#262626" stroke-width="0.06" text-anchor="end" font-family='"Liberation Serif", serif' >&#8722;1.0</text>
<line x1="35.5" y1="104.12" x2="38.5" y2="104.12" stroke="#7a7a7a" stroke-width="0.8" />
<text x="34.6" y="106.22" font-size="6" fill="#262626" stroke="#262626" stroke-width="0.06" text-anchor="end" font-family='"Liberation Serif", serif' >&#8722;1.5</text>
<line x1="35.5" y1="129.66" x2="38.5" y2="129.66" stroke="#7a7a7a" stroke-width="0.8" />
<text x="34.6" y="131.76" font-size="6" fill="#262626" stroke="#262626" stroke-width="0.06" text-anchor="end" font-family='"Liberation Serif", serif' >&#8722;2.0</text>
<line x1="35.5" y1="155.2" x2="38.5" y2="155.2" stroke="#7a7a7a" stroke-width="0.8" />
<text x="34.6" y="157.3" font-size="6" fill="#262626" stroke="#262626" stroke-width="0.06" text-anchor="end" font-family='"Liberation Serif", serif' >&#8722;2.5</text>
<line x1="35.5" y1="6" x2="38.5" y2="6" stroke="#7a7a7a" stroke-width="0.8" />
<line x1="35.5" y1="162" x2="38.5" y2="162" stroke="#7a7a7a" stroke-width="0.8" />
<line x1="52.5" y1="162" x2="52.5" y2="165.2" stroke="#7a7a7a" stroke-width="0.8" />
<text x="52.5" y="171.5" font-size="6" fill="#262626" stroke="#262626" stroke-width="0.06" text-anchor="middle" font-family='"Liberation Serif", serif' >4</text>
<line x1="133.8" y1="162" x2="133.8" y2="165.2" stroke="#7a7a7a" stroke-width="0.8" />
<text x="133.8" y="171.5" font-size="6" fill="#262626" stroke="#262626" stroke-width="0.06" text-anchor="middle" font-family='"Liberation Serif", serif' >6</text>
<line x1="215.1" y1="162" x2="215.1" y2="165.2" stroke="#7a7a7a" stroke-width="0.8" />
<text x="215.1" y="171.5" font-size="6" fill="#262626" stroke="#262626" stroke-width="0.06" text-anchor="middle" font-family='"Liberation Serif", serif' >8</text>
<line x1="296.4" y1="162" x2="296.4" y2="165.2" stroke="#7a7a7a" stroke-width="0.8" />
<text x="296.4" y="171.5" font-size="6" fill="#262626" stroke="#262626" stroke-width="0.06" text-anchor="middle" font-family='"Liberation Serif", serif' >10</text>
<line x1="38.5" y1="162" x2="38.5" y2="165.2" stroke="#7a7a7a" stroke-width="0.8" />
<line x1="339.1" y1="162" x2="339.1" y2="165.2" stroke="#7a7a7a" stroke-width="0.8" />
<text x="208.5" y="178.3" font-size="6" fill="#161616" stroke="#161616" stroke-width="0.06" text-anchor="middle" font-family='"Liberation Serif", serif' >-log2(lambda)</text>
<text x="0" y="0" font-size="6" fill="#161616" stroke="#161616" stroke-width="0.06" text-anchor="middle" font-family='"Liberation Serif", serif' transform="translate(21,83.8) rotate(-90)">Coefficients</text>
<line x1="504.32" y1="4" x2="504.32" y2="152" stroke="#eeeeee" stroke-width="0.6" />
<line x1="472" y1="122.4" x2="633.6" y2="122.4" stroke="#eeeeee" stroke-width="0.6" />
<line x1="536.64" y1="4" x2="536.64" y2="152" stroke="#eeeeee" stroke-width="0.6" />
<line x1="472" y1="92.8" x2="633.6" y2="92.8" stroke="#eeeeee" stroke-width="0.6" />
<line x1="568.96" y1="4" x2="568.96" y2="152" stroke="#eeeeee" stroke-width="0.6" />
<line x1="472" y1="63.2" x2="633.6" y2="63.2" stroke="#eeeeee" stroke-width="0.6" />
<line x1="601.28" y1="4" x2="601.28" y2="152" stroke="#eeeeee" stroke-width="0.6" />
<line x1="472" y1="33.6" x2="633.6" y2="33.6" stroke="#eeeeee" stroke-width="0.6" />
<line x1="472" y1="152" x2="633.6" y2="4" stroke="#d6d6d6" stroke-width="0.9" />
<polyline points="472,152 472,152 472.01,151.99 472.02,151.98 472.03,151.96 472.05,151.94 472.07,151.91 472.1,151.87 472.14,151.82 472.18,151.76 472.22,151.69 472.27,151.62 472.33,151.53 472.4,151.44 472.47,151.33 472.54,151.22 472.62,151.09 472.71,150.96 472.81,150.81 472.91,150.66 473.02,150.49 473.14,150.32 473.26,150.13 473.39,149.94 473.52,149.73 473.67,149.51 473.82,149.28 473.97,149.04 474.14,148.79 474.31,148.53 474.49,148.26 474.67,147.98 474.87,147.68 475.07,147.38 475.28,147.07 475.49,146.74 475.72,146.4 475.95,146.05 476.19,145.7 476.43,145.33 476.68,144.95 476.95,144.55 477.22,144.15 477.49,143.74 477.78,143.32 478.07,142.88 478.37,142.44 478.68,141.98 479,141.51 479.32,141.04 479.65,140.55 480,140.05 480.34,139.54 480.7,139.02 481.07,138.49 481.44,137.95 481.82,137.4 482.21,136.84 482.61,136.27 483.02,135.69 483.43,135.09 483.85,134.49 484.29,133.88 484.73,133.26 485.18,132.63 485.63,131.98 486.1,131.33 486.57,130.67 487.06,130 487.55,129.32 488.05,128.63 488.56,127.93 489.07,127.22 489.6,126.5 490.13,125.77 490.68,125.04 491.23,124.29 491.79,123.53 492.36,122.77 492.94,122 493.53,121.21 494.12,120.42 494.73,119.62 495.34,118.81 495.97,118 496.6,117.17 497.24,116.34 497.89,115.49 498.55,114.64 499.22,113.79 499.89,112.92 500.58,112.04 501.28,111.16 501.98,110.27 502.69,109.38 503.42,108.47 504.15,107.56 504.89,106.64 505.64,105.71 506.4,104.78 507.17,103.84 507.95,102.89 508.74,101.93 509.53,100.97 510.34,100 511.16,99.03 511.98,98.05 512.81,97.06 513.66,96.07 514.51,95.07 515.37,94.06 516.25,93.05 517.13,92.03 518.02,91.01 518.92,89.98 519.83,88.95 520.75,87.91 521.68,86.87 522.62,85.82 523.57,84.77 524.53,83.71 525.49,82.65 526.47,81.58 527.46,80.51 528.46,79.43 529.46,78.35 530.48,77.27 531.5,76.19 532.54,75.1 533.58,74 534.64,72.91 535.7,71.81 536.78,70.71 537.86,69.6 538.96,68.5 540.06,67.39 541.18,66.27 542.3,65.16 543.43,64.05 544.58,62.93 545.73,61.81 546.9,60.69 548.07,59.57 549.25,58.45 550.45,57.33 551.65,56.2 552.86,55.08 554.09,53.96 555.32,52.84 556.56,51.71 557.82,50.59 559.08,49.47 560.36,48.35 561.64,47.23 562.93,46.12 564.24,45 565.55,43.89 566.88,42.78 568.21,41.67 569.55,40.56 570.91,39.46 572.27,38.36 573.65,37.27 575.04,36.18 576.43,35.09 577.84,34.01 579.25,32.94 580.68,31.87 582.12,30.8 583.56,29.74 585.02,28.69 586.49,27.65 587.97,26.61 589.46,25.58 590.96,24.56 592.46,23.55 593.98,22.54 595.51,21.55 597.05,20.57 598.61,19.6 600.17,18.64 601.74,17.69 603.32,16.76 604.91,15.84 606.52,14.94 608.13,14.05 609.75,13.18 611.39,12.33 613.03,11.49 614.69,10.68 616.36,9.89 618.03,9.13 619.72,8.39 621.42,7.68 623.13,7 624.85,6.36 626.57,5.75 628.32,5.2 630.07,4.7 631.83,4.28 633.6,4" fill="none" stroke="#f3836f" stroke-width="1.2" stroke-linejoin="round" />
<polyline points="472,152 472,151.93 472.01,151.78 472.02,151.57 472.03,151.33 472.05,151.05 472.07,150.74 472.1,150.39 472.14,150.03 472.18,149.63 472.22,149.22 472.27,148.78 472.33,148.33 472.4,147.86 472.47,147.37 472.54,146.86 472.62,146.34 472.71,145.8 472.81,145.25 472.91,144.68 473.02,144.1 473.14,143.51 473.26,142.91 473.39,142.29 473.52,141.67 473.67,141.03 473.82,140.38 473.97,139.73 474.14,139.06 474.31,138.38 474.49,137.7 474.67,137.01 474.87,136.31 475.07,135.6 475.28,134.88 475.49,134.16 475.72,133.43 475.95,132.69 476.19,131.94 476.43,131.19 476.68,130.43 476.95,129.67 477.22,128.9 477.49,128.13 477.78,127.34 478.07,126.56 478.37,125.77 478.68,124.97 479,124.17 479.32,123.36 479.65,122.55 480,121.74 480.34,120.92 480.7,120.1 481.07,119.27 481.44,118.44 481.82,117.6 482.21,116.77 482.61,115.93 483.02,115.08 483.43,114.23 483.85,113.38 484.29,112.53 484.73,111.67 485.18,110.81 485.63,109.95 486.1,109.09 486.57,108.22 487.06,107.35 487.55,106.48 488.05,105.61 488.56,104.73 489.07,103.85 489.6,102.97 490.13,102.09 490.68,101.21 491.23,100.33 491.79,99.44 492.36,98.56 492.94,97.67 493.53,96.78 494.12,95.89 494.73,95 495.34,94.11 495.97,93.21 496.6,92.32 497.24,91.43 497.89,90.53 498.55,89.64 499.22,88.74 499.89,87.84 500.58,86.95 501.28,86.05 501.98,85.15 502.69,84.26 503.42,83.36 504.15,82.46 504.89,81.57 505.64,80.67 506.4,79.77 507.17,78.88 507.95,77.98 508.74,77.09 509.53,76.19 510.34,75.3 511.16,74.41 511.98,73.51 512.81,72.62 513.66,71.73 514.51,70.84 515.37,69.95 516.25,69.07 517.13,68.18 518.02,67.3 518.92,66.41 519.83,65.53 520.75,64.65 521.68,63.77 522.62,62.89 523.57,62.01 524.53,61.14 525.49,60.27 526.47,59.4 527.46,58.53 528.46,57.66 529.46,56.79 530.48,55.93 531.5,55.07 532.54,54.21 533.58,53.35 534.64,52.5 535.7,51.65 536.78,50.8 537.86,49.95 538.96,49.1 540.06,48.26 541.18,47.42 542.3,46.59 543.43,45.75 544.58,44.92 545.73,44.09 546.9,43.27 548.07,42.45 549.25,41.63 550.45,40.81 551.65,40 552.86,39.19 554.09,38.39 555.32,37.59 556.56,36.79 557.82,36 559.08,35.21 560.36,34.42 561.64,33.64 562.93,32.86 564.24,32.08 565.55,31.32 566.88,30.55 568.21,29.79 569.55,29.03 570.91,28.28 572.27,27.53 573.65,26.79 575.04,26.05 576.43,25.32 577.84,24.59 579.25,23.87 580.68,23.15 582.12,22.44 583.56,21.74 585.02,21.04 586.49,20.34 587.97,19.65 589.46,18.97 590.96,18.3 592.46,17.63 593.98,16.97 595.51,16.31 597.05,15.66 598.61,15.02 600.17,14.39 601.74,13.76 603.32,13.14 604.91,12.53 606.52,11.93 608.13,11.34 609.75,10.76 611.39,10.18 613.03,9.62 614.69,9.07 616.36,8.52 618.03,7.99 619.72,7.48 621.42,6.97 623.13,6.48 624.85,6.01 626.57,5.55 628.32,5.12 630.07,4.7 631.83,4.32 633.6,4" fill="none" stroke="#9fd9ea" stroke-width="1.2" stroke-linejoin="round" />
<polyline points="472,152 472,151.99 472.01,151.94 472.02,151.87 472.03,151.77 472.05,151.64 472.07,151.49 472.1,151.32 472.14,151.12 472.18,150.89 472.22,150.65 472.27,150.38 472.33,150.09 472.4,149.78 472.47,149.44 472.54,149.09 472.62,148.72 472.71,148.33 472.81,147.92 472.91,147.5 473.02,147.05 473.14,146.59 473.26,146.12 473.39,145.62 473.52,145.11 473.67,144.59 473.82,144.05 473.97,143.49 474.14,142.92 474.31,142.34 474.49,141.74 474.67,141.13 474.87,140.5 475.07,139.86 475.28,139.21 475.49,138.55 475.72,137.87 475.95,137.19 476.19,136.49 476.43,135.78 476.68,135.06 476.95,134.33 477.22,133.58 477.49,132.83 477.78,132.07 478.07,131.3 478.37,130.52 478.68,129.72 479,128.92 479.32,128.12 479.65,127.3 480,126.47 480.34,125.64 480.7,124.8 481.07,123.95 481.44,123.09 481.82,122.22 482.21,121.35 482.61,120.47 483.02,119.59 483.43,118.7 483.85,117.8 484.29,116.89 484.73,115.98 485.18,115.07 485.63,114.15 486.1,113.22 486.57,112.29 487.06,111.35 487.55,110.41 488.05,109.46 488.56,108.51 489.07,107.56 489.6,106.6 490.13,105.63 490.68,104.67 491.23,103.7 491.79,102.72 492.36,101.74 492.94,100.76 493.53,99.78 494.12,98.79 494.73,97.8 495.34,96.81 495.97,95.82 496.6,94.82 497.24,93.82 497.89,92.82 498.55,91.82 499.22,90.82 499.89,89.82 500.58,88.81 501.28,87.8 501.98,86.79 502.69,85.79 503.42,84.78 504.15,83.77 504.89,82.76 505.64,81.75 506.4,80.74 507.17,79.73 507.95,78.71 508.74,77.7 509.53,76.7 510.34,75.69 511.16,74.68 511.98,73.67 512.81,72.66 513.66,71.66 514.51,70.66 515.37,69.65 516.25,68.65 517.13,67.65 518.02,66.66 518.92,65.66 519.83,64.67 520.75,63.68 521.68,62.69 522.62,61.7 523.57,60.72 524.53,59.74 525.49,58.76 526.47,57.79 527.46,56.82 528.46,55.85 529.46,54.88 530.48,53.92 531.5,52.97 532.54,52.01 533.58,51.06 534.64,50.12 535.7,49.18 536.78,48.24 537.86,47.31 538.96,46.38 540.06,45.46 541.18,44.54 542.3,43.63 543.43,42.72 544.58,41.82 545.73,40.92 546.9,40.03 548.07,39.15 549.25,38.27 550.45,37.39 551.65,36.53 552.86,35.67 554.09,34.81 555.32,33.96 556.56,33.12 557.82,32.29 559.08,31.46 560.36,30.64 561.64,29.83 562.93,29.03 564.24,28.23 565.55,27.44 566.88,26.66 568.21,25.88 569.55,25.12 570.91,24.36 572.27,23.61 573.65,22.87 575.04,22.14 576.43,21.42 577.84,20.71 579.25,20.01 580.68,19.32 582.12,18.63 583.56,17.96 585.02,17.3 586.49,16.65 587.97,16.01 589.46,15.38 590.96,14.76 592.46,14.15 593.98,13.56 595.51,12.97 597.05,12.4 598.61,11.84 600.17,11.3 601.74,10.77 603.32,10.25 604.91,9.74 606.52,9.25 608.13,8.78 609.75,8.32 611.39,7.87 613.03,7.44 614.69,7.03 616.36,6.64 618.03,6.26 619.72,5.91 621.42,5.57 623.13,5.26 624.85,4.97 626.57,4.7 628.32,4.47 630.07,4.26 631.83,4.1 633.6,4" fill="none" stroke="#4cbfa6" stroke-width="1.2" stroke-linejoin="round" />
<line x1="472" y1="4" x2="633.6" y2="4" stroke="#bdbdbd" stroke-width="1.3" />
<line x1="633.6" y1="4" x2="633.6" y2="152" stroke="#bdbdbd" stroke-width="1.3" />
<line x1="472" y1="3.4" x2="472" y2="152.6" stroke="#bdbdbd" stroke-width="1.3" />
<line x1="471.4" y1="152" x2="634.2" y2="152" stroke="#bdbdbd" stroke-width="1.3" />
<line x1="470.2" y1="152" x2="472" y2="152" stroke="#888" stroke-width="0.6" />
<text x="469.3" y="153.3" font-size="3.7" fill="#262626"  text-anchor="end" font-family='"Liberation Serif", serif' >0.0</text>
<line x1="472" y1="152" x2="472" y2="153.8" stroke="#888" stroke-width="0.6" />
<text x="472" y="157.6" font-size="3.7" fill="#262626"  text-anchor="middle" font-family='"Liberation Serif", serif' >0.0</text>
<line x1="470.2" y1="122.4" x2="472" y2="122.4" stroke="#888" stroke-width="0.6" />
<text x="469.3" y="123.7" font-size="3.7" fill="#262626"  text-anchor="end" font-family='"Liberation Serif", serif' >0.2</text>
<line x1="504.32" y1="152" x2="504.32" y2="153.8" stroke="#888" stroke-width="0.6" />
<text x="504.32" y="157.6" font-size="3.7" fill="#262626"  text-anchor="middle" font-family='"Liberation Serif", serif' >0.2</text>
<line x1="470.2" y1="92.8" x2="472" y2="92.8" stroke="#888" stroke-width="0.6" />
<text x="469.3" y="94.1" font-size="3.7" fill="#262626"  text-anchor="end" font-family='"Liberation Serif", serif' >0.4</text>
<line x1="536.64" y1="152" x2="536.64" y2="153.8" stroke="#888" stroke-width="0.6" />
<text x="536.64" y="157.6" font-size="3.7" fill="#262626"  text-anchor="middle" font-family='"Liberation Serif", serif' >0.4</text>
<line x1="470.2" y1="63.2" x2="472" y2="63.2" stroke="#888" stroke-width="0.6" />
<text x="469.3" y="64.5" font-size="3.7" fill="#262626"  text-anchor="end" font-family='"Liberation Serif", serif' >0.6</text>
<line x1="568.96" y1="152" x2="568.96" y2="153.8" stroke="#888" stroke-width="0.6" />
<text x="568.96" y="157.6" font-size="3.7" fill="#262626"  text-anchor="middle" font-family='"Liberation Serif", serif' >0.6</text>
<line x1="470.2" y1="33.6" x2="472" y2="33.6" stroke="#888" stroke-width="0.6" />
<text x="469.3" y="34.9" font-size="3.7" fill="#262626"  text-anchor="end" font-family='"Liberation Serif", serif' >0.8</text>
<line x1="601.28" y1="152" x2="601.28" y2="153.8" stroke="#888" stroke-width="0.6" />
<text x="601.28" y="157.6" font-size="3.7" fill="#262626"  text-anchor="middle" font-family='"Liberation Serif", serif' >0.8</text>
<line x1="470.2" y1="4" x2="472" y2="4" stroke="#888" stroke-width="0.6" />
<text x="469.3" y="5.3" font-size="3.7" fill="#262626"  text-anchor="end" font-family='"Liberation Serif", serif' >1.0</text>
<line x1="633.6" y1="152" x2="633.6" y2="153.8" stroke="#888" stroke-width="0.6" />
<text x="633.6" y="157.6" font-size="3.7" fill="#262626"  text-anchor="middle" font-family='"Liberation Serif", serif' >1.0</text>
<text x="552.8" y="162.1" font-size="4.1" fill="#161616"  text-anchor="middle" font-family='"Liberation Serif", serif' >1-Specificity</text>
<text x="0" y="0" font-size="4.0" fill="#161616"  text-anchor="middle" font-family='"Liberation Serif", serif' transform="translate(463.6,77.9) rotate(-90)">Sensitivity</text>
<text x="601.9" y="138.2" font-size="3.85" fill="#0c0c0c" stroke="#0c0c0c" stroke-width="0.04" text-anchor="start" font-family='"Liberation Serif", serif' >Time AUC(95%CI)</text>
<line x1="595" y1="140.6" x2="601.2" y2="140.6" stroke="#f3836f" stroke-width="0.9" />
<text x="601.9" y="142" font-size="3.85" fill="#0c0c0c" stroke="#0c0c0c" stroke-width="0.04" text-anchor="start" font-family='"Liberation Serif", serif' >365 0.61(0.73-0.49)</text>
<line x1="595" y1="144.9" x2="601.2" y2="144.9" stroke="#9fd9ea" stroke-width="0.9" />
<text x="601.9" y="146.3" font-size="3.85" fill="#0c0c0c" stroke="#0c0c0c" stroke-width="0.04" text-anchor="start" font-family='"Liberation Serif", serif' >1095 0.70(0.77-0.62)</text>
<line x1="595" y1="149.1" x2="601.2" y2="149.1" stroke="#4cbfa6" stroke-width="0.9" />
<text x="601.9" y="150.5" font-size="3.85" fill="#0c0c0c" stroke="#0c0c0c" stroke-width="0.04" text-anchor="start" font-family='"Liberation Serif", serif' >1825 0.71(0.79-0.64)</text>
<line x1="86.3" y1="209.8" x2="86.3" y2="300.8" stroke="#ececec" stroke-width="0.6" />
<line x1="161.7" y1="209.8" x2="161.7" y2="300.8" stroke="#ececec" stroke-width="0.6" />
<line x1="237.1" y1="209.8" x2="237.1" y2="300.8" stroke="#ececec" stroke-width="0.6" />
<line x1="312.5" y1="209.8" x2="312.5" y2="300.8" stroke="#ececec" stroke-width="0.6" />
<line x1="38.4" y1="224.5" x2="333.1" y2="224.5" stroke="#ececec" stroke-width="0.6" stroke-dasharray="1.2,0.8"/>
<line x1="38.4" y1="241.62" x2="333.1" y2="241.62" stroke="#ececec" stroke-width="0.6" stroke-dasharray="1.2,0.8"/>
<line x1="38.4" y1="258.74" x2="333.1" y2="258.74" stroke="#ececec" stroke-width="0.6" stroke-dasharray="1.2,0.8"/>
<line x1="38.4" y1="275.86" x2="333.1" y2="275.86" stroke="#ececec" stroke-width="0.6" stroke-dasharray="1.2,0.8"/>
<line x1="38.4" y1="292.98" x2="333.1" y2="292.98" stroke="#ececec" stroke-width="0.6" stroke-dasharray="1.2,0.8"/>
<line x1="46.7" y1="216.75" x2="46.7" y2="265.15" stroke="#8c8c8c" stroke-width="1.05" />
<line x1="51.76" y1="217.06" x2="51.76" y2="265.31" stroke="#8c8c8c" stroke-width="1.05" />
<line x1="56.82" y1="217.37" x2="56.82" y2="265.46" stroke="#8c8c8c" stroke-width="1.05" />
<line x1="61.87" y1="217.68" x2="61.87" y2="265.62" stroke="#8c8c8c" stroke-width="1.05" />
<line x1="66.93" y1="218.13" x2="66.93" y2="265.91" stroke="#8c8c8c" stroke-width="1.05" />
<line x1="71.99" y1="218.57" x2="71.99" y2="266.2" stroke="#8c8c8c" stroke-width="1.05" />
<line x1="77.05" y1="219.02" x2="77.05" y2="266.49" stroke="#8c8c8c" stroke-width="1.05" />
<line x1="82.11" y1="219.56" x2="82.11" y2="266.88" stroke="#8c8c8c" stroke-width="1.05" />
<line x1="87.16" y1="220.11" x2="87.16" y2="267.26" stroke="#8c8c8c" stroke-width="1.05" />
<line x1="92.22" y1="220.65" x2="92.22" y2="267.65" stroke="#8c8c8c" stroke-width="1.05" />
<line x1="97.28" y1="221.26" x2="97.28" y2="268.11" stroke="#8c8c8c" stroke-width="1.05" />
<line x1="102.34" y1="221.87" x2="102.34" y2="268.56" stroke="#8c8c8c" stroke-width="1.05" />
<line x1="107.4" y1="222.48" x2="107.4" y2="269.02" stroke="#8c8c8c" stroke-width="1.05" />
<line x1="112.45" y1="223.09" x2="112.45" y2="269.47" stroke="#8c8c8c" stroke-width="1.05" />
<line x1="117.51" y1="223.7" x2="117.51" y2="269.93" stroke="#8c8c8c" stroke-width="1.05" />
<line x1="122.57" y1="224.31" x2="122.57" y2="270.38" stroke="#8c8c8c" stroke-width="1.05" />
<line x1="127.63" y1="225.26" x2="127.63" y2="271.17" stroke="#8c8c8c" stroke-width="1.05" />
<line x1="132.69" y1="226.21" x2="132.69" y2="271.96" stroke="#8c8c8c" stroke-width="1.05" />
<line x1="137.74" y1="227.16" x2="137.74" y2="272.76" stroke="#8c8c8c" stroke-width="1.05" />
<line x1="142.8" y1="228.56" x2="142.8" y2="273.79" stroke="#8c8c8c" stroke-width="1.05" />
<line x1="147.86" y1="229.96" x2="147.86" y2="274.82" stroke="#8c8c8c" stroke-width="1.05" />
<line x1="152.92" y1="230.97" x2="152.92" y2="275.46" stroke="#8c8c8c" stroke-width="1.05" />
<line x1="157.98" y1="231.95" x2="157.98" y2="276.08" stroke="#8c8c8c" stroke-width="1.05" />
<line x1="163.03" y1="233.27" x2="163.03" y2="277.03" stroke="#8c8c8c" stroke-width="1.05" />
<line x1="168.09" y1="234.61" x2="168.09" y2="278" stroke="#8c8c8c" stroke-width="1.05" />
<line x1="173.15" y1="235.94" x2="173.15" y2="278.97" stroke="#8c8c8c" stroke-width="1.05" />
<line x1="178.21" y1="237.28" x2="178.21" y2="279.93" stroke="#8c8c8c" stroke-width="1.05" />
<line x1="183.27" y1="238.79" x2="183.27" y2="281.08" stroke="#8c8c8c" stroke-width="1.05" />
<line x1="188.32" y1="240.32" x2="188.32" y2="282.24" stroke="#8c8c8c" stroke-width="1.05" />
<line x1="193.38" y1="241.99" x2="193.38" y2="283.55" stroke="#8c8c8c" stroke-width="1.05" />
<line x1="198.44" y1="243.68" x2="198.44" y2="284.87" stroke="#8c8c8c" stroke-width="1.05" />
<line x1="203.5" y1="245.46" x2="203.5" y2="286.28" stroke="#8c8c8c" stroke-width="1.05" />
<line x1="208.56" y1="247.25" x2="208.56" y2="287.7" stroke="#8c8c8c" stroke-width="1.05" />
<line x1="213.61" y1="248.84" x2="213.61" y2="288.93" stroke="#8c8c8c" stroke-width="1.05" />
<line x1="218.67" y1="250.43" x2="218.67" y2="290.14" stroke="#8c8c8c" stroke-width="1.05" />
<line x1="223.73" y1="251.44" x2="223.73" y2="290.79" stroke="#8c8c8c" stroke-width="1.05" />
<line x1="228.79" y1="252.43" x2="228.79" y2="291.41" stroke="#8c8c8c" stroke-width="1.05" />
<line x1="233.85" y1="253.23" x2="233.85" y2="291.84" stroke="#8c8c8c" stroke-width="1.05" />
<line x1="238.9" y1="253.97" x2="238.9" y2="292.6" stroke="#8c8c8c" stroke-width="1.05" />
<line x1="243.96" y1="254.71" x2="243.96" y2="293.38" stroke="#8c8c8c" stroke-width="1.05" />
<line x1="249.02" y1="254.94" x2="249.02" y2="293.66" stroke="#8c8c8c" stroke-width="1.05" />
<line x1="254.08" y1="255.17" x2="254.08" y2="293.93" stroke="#8c8c8c" stroke-width="1.05" />
<line x1="259.14" y1="255.05" x2="259.14" y2="293.85" stroke="#8c8c8c" stroke-width="1.05" />
<line x1="264.19" y1="255.02" x2="264.19" y2="293.68" stroke="#8c8c8c" stroke-width="1.05" />
<line x1="269.25" y1="254.76" x2="269.25" y2="293.25" stroke="#8c8c8c" stroke-width="1.05" />
<line x1="274.31" y1="254.49" x2="274.31" y2="292.82" stroke="#8c8c8c" stroke-width="1.05" />
<line x1="279.37" y1="253.79" x2="279.37" y2="291.94" stroke="#8c8c8c" stroke-width="1.05" />
<line x1="284.43" y1="253.07" x2="284.43" y2="291.05" stroke="#8c8c8c" stroke-width="1.05" />
<line x1="289.48" y1="251.66" x2="289.48" y2="289.48" stroke="#8c8c8c" stroke-width="1.05" />
<line x1="294.54" y1="250.22" x2="294.54" y2="287.92" stroke="#8c8c8c" stroke-width="1.05" />
<line x1="299.6" y1="248.33" x2="299.6" y2="285.91" stroke="#8c8c8c" stroke-width="1.05" />
<line x1="304.66" y1="246.43" x2="304.66" y2="283.9" stroke="#8c8c8c" stroke-width="1.05" />
<line x1="309.72" y1="244.19" x2="309.72" y2="281.54" stroke="#8c8c8c" stroke-width="1.05" />
<line x1="314.77" y1="241.95" x2="314.77" y2="279.18" stroke="#8c8c8c" stroke-width="1.05" />
<line x1="319.83" y1="240.15" x2="319.83" y2="277.26" stroke="#8c8c8c" stroke-width="1.05" />
<line x1="324.89" y1="238.35" x2="324.89" y2="275.35" stroke="#8c8c8c" stroke-width="1.05" />
<circle cx="46.7" cy="240.95" r="1.15" fill="#f0413c"/>
<circle cx="51.76" cy="241.18" r="1.15" fill="#f0413c"/>
<circle cx="56.82" cy="241.42" r="1.15" fill="#f0413c"/>
<circle cx="61.87" cy="241.65" r="1.15" fill="#f0413c"/>
<circle cx="66.93" cy="242.02" r="1.15" fill="#f0413c"/>
<circle cx="71.99" cy="242.39" r="1.15" fill="#f0413c"/>
<circle cx="77.05" cy="242.75" r="1.15" fill="#f0413c"/>
<circle cx="82.11" cy="243.22" r="1.15" fill="#f0413c"/>
<circle cx="87.16" cy="243.69" r="1.15" fill="#f0413c"/>
<circle cx="92.22" cy="244.15" r="1.15" fill="#f0413c"/>
<circle cx="97.28" cy="244.68" r="1.15" fill="#f0413c"/>
<circle cx="102.34" cy="245.22" r="1.15" fill="#f0413c"/>
<circle cx="107.4" cy="245.75" r="1.15" fill="#f0413c"/>
<circle cx="112.45" cy="246.28" r="1.15" fill="#f0413c"/>
<circle cx="117.51" cy="246.81" r="1.15" fill="#f0413c"/>
<circle cx="122.57" cy="247.35" r="1.15" fill="#f0413c"/>
<circle cx="127.63" cy="248.22" r="1.15" fill="#f0413c"/>
<circle cx="132.69" cy="249.09" r="1.15" fill="#f0413c"/>
<circle cx="137.74" cy="249.96" r="1.15" fill="#f0413c"/>
<circle cx="142.8" cy="251.18" r="1.15" fill="#f0413c"/>
<circle cx="147.86" cy="252.39" r="1.15" fill="#f0413c"/>
<circle cx="152.92" cy="253.21" r="1.15" fill="#f0413c"/>
<circle cx="157.98" cy="254.01" r="1.15" fill="#f0413c"/>
<circle cx="163.03" cy="255.15" r="1.15" fill="#f0413c"/>
<circle cx="168.09" cy="256.3" r="1.15" fill="#f0413c"/>
<circle cx="173.15" cy="257.45" r="1.15" fill="#f0413c"/>
<circle cx="178.21" cy="258.61" r="1.15" fill="#f0413c"/>
<circle cx="183.27" cy="259.94" r="1.15" fill="#f0413c"/>
<circle cx="188.32" cy="261.28" r="1.15" fill="#f0413c"/>
<circle cx="193.38" cy="262.77" r="1.15" fill="#f0413c"/>
<circle cx="198.44" cy="264.27" r="1.15" fill="#f0413c"/>
<circle cx="203.5" cy="265.87" r="1.15" fill="#f0413c"/>
<circle cx="208.56" cy="267.47" r="1.15" fill="#f0413c"/>
<circle cx="213.61" cy="268.88" r="1.15" fill="#f0413c"/>
<circle cx="218.67" cy="270.29" r="1.15" fill="#f0413c"/>
<circle cx="223.73" cy="271.12" r="1.15" fill="#f0413c"/>
<circle cx="228.79" cy="271.92" r="1.15" fill="#f0413c"/>
<circle cx="233.85" cy="272.53" r="1.15" fill="#f0413c"/>
<circle cx="238.9" cy="273.29" r="1.15" fill="#f0413c"/>
<circle cx="243.96" cy="274.04" r="1.15" fill="#f0413c"/>
<circle cx="249.02" cy="274.3" r="1.15" fill="#f0413c"/>
<circle cx="254.08" cy="274.55" r="1.15" fill="#f0413c"/>
<circle cx="259.14" cy="274.45" r="1.15" fill="#f0413c"/>
<circle cx="264.19" cy="274.35" r="1.15" fill="#f0413c"/>
<circle cx="269.25" cy="274.01" r="1.15" fill="#f0413c"/>
<circle cx="274.31" cy="273.66" r="1.15" fill="#f0413c"/>
<circle cx="279.37" cy="272.86" r="1.15" fill="#f0413c"/>
<circle cx="284.43" cy="272.06" r="1.15" fill="#f0413c"/>
<circle cx="289.48" cy="270.57" r="1.15" fill="#f0413c"/>
<circle cx="294.54" cy="269.07" r="1.15" fill="#f0413c"/>
<circle cx="299.6" cy="267.12" r="1.15" fill="#f0413c"/>
<circle cx="304.66" cy="265.17" r="1.15" fill="#f0413c"/>
<circle cx="309.72" cy="262.87" r="1.15" fill="#f0413c"/>
<circle cx="314.77" cy="260.56" r="1.15" fill="#f0413c"/>
<circle cx="319.83" cy="258.71" r="1.15" fill="#f0413c"/>
<circle cx="324.89" cy="256.85" r="1.15" fill="#f0413c"/>
<line x1="259.3" y1="216.4" x2="259.3" y2="300.8" stroke="#ef5350" stroke-width="0.6" stroke-dasharray="0.9,1.2"/>
<text x="259.3" y="216" font-size="5.2" fill="#161616" stroke="#161616" stroke-width="0.06" text-anchor="middle" font-family='"Liberation Serif", serif' >&#955;=0.02</text>
<line x1="38.4" y1="209.8" x2="333.1" y2="209.8" stroke="#a6a6a6" stroke-width="1.3" />
<line x1="333.1" y1="209.8" x2="333.1" y2="300.8" stroke="#a6a6a6" stroke-width="1.3" />
<line x1="38.4" y1="209.2" x2="38.4" y2="301.4" stroke="#6a6a6a" stroke-width="1.3" />
<line x1="37.8" y1="300.8" x2="333.7" y2="300.8" stroke="#6a6a6a" stroke-width="1.3" />
<line x1="35.8" y1="224.5" x2="38.4" y2="224.5" stroke="#7a7a7a" stroke-width="0.8" />
<text x="35" y="226.3" font-size="5.3" fill="#262626" stroke="#262626" stroke-width="0.06" text-anchor="end" font-family='"Liberation Serif", serif' >13.4</text>
<line x1="35.8" y1="241.62" x2="38.4" y2="241.62" stroke="#7a7a7a" stroke-width="0.8" />
<text x="35" y="243.42" font-size="5.3" fill="#262626" stroke="#262626" stroke-width="0.06" text-anchor="end" font-family='"Liberation Serif", serif' >13.2</text>
<line x1="35.8" y1="258.74" x2="38.4" y2="258.74" stroke="#7a7a7a" stroke-width="0.8" />
<text x="35" y="260.54" font-size="5.3" fill="#262626" stroke="#262626" stroke-width="0.06" text-anchor="end" font-family='"Liberation Serif", serif' >13.0</text>
<line x1="35.8" y1="275.86" x2="38.4" y2="275.86" stroke="#7a7a7a" stroke-width="0.8" />
<text x="35" y="277.66" font-size="5.3" fill="#262626" stroke="#262626" stroke-width="0.06" text-anchor="end" font-family='"Liberation Serif", serif' >12.8</text>
<line x1="35.8" y1="292.98" x2="38.4" y2="292.98" stroke="#7a7a7a" stroke-width="0.8" />
<text x="35" y="294.78" font-size="5.3" fill="#262626" stroke="#262626" stroke-width="0.06" text-anchor="end" font-family='"Liberation Serif", serif' >12.6</text>
<line x1="35.8" y1="209.8" x2="38.4" y2="209.8" stroke="#7a7a7a" stroke-width="0.8" />
<line x1="35.8" y1="300.8" x2="38.4" y2="300.8" stroke="#7a7a7a" stroke-width="0.8" />
<line x1="86.3" y1="300.8" x2="86.3" y2="303.6" stroke="#7a7a7a" stroke-width="0.8" />
<text x="86.3" y="308.5" font-size="5.3" fill="#262626" stroke="#262626" stroke-width="0.06" text-anchor="middle" font-family='"Liberation Serif", serif' >&#8722;10</text>
<line x1="161.7" y1="300.8" x2="161.7" y2="303.6" stroke="#7a7a7a" stroke-width="0.8" />
<text x="161.7" y="308.5" font-size="5.3" fill="#262626" stroke="#262626" stroke-width="0.06" text-anchor="middle" font-family='"Liberation Serif", serif' >&#8722;8</text>
<line x1="237.1" y1="300.8" x2="237.1" y2="303.6" stroke="#7a7a7a" stroke-width="0.8" />
<text x="237.1" y="308.5" font-size="5.3" fill="#262626" stroke="#262626" stroke-width="0.06" text-anchor="middle" font-family='"Liberation Serif", serif' >&#8722;6</text>
<line x1="312.5" y1="300.8" x2="312.5" y2="303.6" stroke="#7a7a7a" stroke-width="0.8" />
<text x="312.5" y="308.5" font-size="5.3" fill="#262626" stroke="#262626" stroke-width="0.06" text-anchor="middle" font-family='"Liberation Serif", serif' >&#8722;4</text>
<line x1="38.4" y1="300.8" x2="38.4" y2="303.6" stroke="#7a7a7a" stroke-width="0.8" />
<line x1="333.1" y1="300.8" x2="333.1" y2="303.6" stroke="#7a7a7a" stroke-width="0.8" />
<text x="186.3" y="314.4" font-size="5.2" fill="#161616" stroke="#161616" stroke-width="0.06" text-anchor="middle" font-family='"Liberation Serif", serif' >log2(lambda)</text>
<text x="0" y="0" font-size="5.1" fill="#161616" stroke="#161616" stroke-width="0.06" text-anchor="middle" font-family='"Liberation Serif", serif' transform="translate(24.2,254.9) rotate(-90)">Partial Likelihood Deviance</text>
<polygon points="385.2,180.2 395,181.4 405,183.4 410,184.9 415.3,185.3 420.5,187 427.5,188.8 436.3,190.5 453.8,191.9 467.8,193.1 480.5,193.3 481.5,194.2 523.3,194.2 523.3,190.6 530,190.6 530,192 678.8,192 678.8,241.8 531.5,241.8 530,226.2 523.3,226.2 523.3,209 481.5,209 480.5,204.5 467.8,204.5 466,202.6 451.5,200.5 439,199.6 429.6,197 422.3,192.3 415.3,188.4 410,187.9 405,186.6 395,183.4 385.2,180.6" fill="#f9dad8" stroke="none" />
<polygon points="385.2,180 392,181.5 399.2,183.6 407.9,188.9 411.5,192 416.5,194.4 420.5,200.6 424.3,205.3 428,209 432.6,212.7 442.9,216.5 444.8,218.3 461.6,221.1 461.6,222.6 485.8,223 485.8,225 510,225.6 548.6,226.2 548.6,285.9 529.1,285.9 527.4,271.2 518.3,271.2 511,257.4 485.6,257.4 485.6,251.4 461.6,251 461.6,249.1 450.4,247.2 444.8,242.6 439.2,236 433.6,234.2 428,227.6 424.3,219.3 418.7,213.7 413,206.2 407.9,198.4 401.9,193.5 396,188.5 391.5,184.6 385.2,180.8" fill="#dcedf5" stroke="none" />
<polygon points="529.5,226.2 548.6,226.2 548.6,241.8 532.5,241.8" fill="#d6d4d8" stroke="none" />
<line x1="381.6" y1="242.1" x2="678.6" y2="242.1" stroke="#666" stroke-width="0.7" stroke-dasharray="1,0.8"/>
<line x1="678.6" y1="242.1" x2="678.6" y2="302.8" stroke="#777" stroke-width="0.6" stroke-dasharray="1,0.8"/>
<line x1="485.2" y1="242.1" x2="485.2" y2="302.8" stroke="#777" stroke-width="0.6" stroke-dasharray="1,0.8"/>
<polyline points="385.4,180.2 386.9,180.2 386.9,180.6 388.4,180.6 388.4,181.01 389.9,181.01 389.9,181.41 391.4,181.41 391.4,181.77 392.9,181.77 392.9,182.08 394.4,182.08 394.4,182.4 395.9,182.4 395.9,182.69 397.4,182.69 397.4,182.97 398.9,182.97 398.9,183.24 400.4,183.24 400.4,183.88 401.9,183.88 401.9,184.61 403.4,184.61 403.4,185.18 404.9,185.18 404.9,185.55 406.4,185.55 406.4,185.93 407.9,185.93 407.9,186.3 409.4,186.3 409.4,186.45 410.9,186.45 410.9,186.59 412.4,186.59 412.4,186.74 413.9,186.74 413.9,186.8 415.4,186.8 415.4,186.85 416.9,186.85 416.9,187.62 418.4,187.62 418.4,188.39 419.9,188.39 419.9,189.04 421.4,189.04 421.4,189.64 422.9,189.64 422.9,190.24 424.4,190.24 424.4,190.84 425.9,190.84 425.9,191.43 427.4,191.43 427.4,191.95 428.9,191.95 428.9,192.47 430.4,192.47 430.4,192.99 431.9,192.99 431.9,193.5 433.4,193.5 433.4,194.02 434.9,194.02 434.9,194.44 436.4,194.44 436.4,194.58 437.9,194.58 437.9,194.72 439.4,194.72 439.4,194.87 440.9,194.87 440.9,195.01 442.4,195.01 442.4,195.15 443.9,195.15 443.9,195.3 445.4,195.3 445.4,195.49 446.9,195.49 446.9,195.83 448.4,195.83 448.4,196.18 449.9,196.18 449.9,196.52 451.4,196.52 451.4,196.86 452.9,196.86 452.9,197.02 454.4,197.02 454.4,197.05 455.9,197.05 455.9,197.07 457.4,197.07 457.4,197.1 458.9,197.1 458.9,197.13 460.4,197.13 460.4,197.16 461.9,197.16 461.9,197.19 463.4,197.19 463.4,197.39 464.9,197.39 464.9,197.71 466.4,197.71 466.4,197.98 467.9,197.98 467.9,198.22 469.4,198.22 469.4,198.46 470.9,198.46 470.9,198.7 472.4,198.7 472.4,198.86 473.9,198.86 473.9,199.02 475.4,199.02 475.4,199.18 476.9,199.18 476.9,199.35 478.4,199.35 478.4,199.51 479.9,199.51 479.9,199.67 481.4,199.67 481.4,200.84 482.9,200.84 482.9,201.51 484.4,201.51 484.4,201.52 485.9,201.52 485.9,201.53 487.4,201.53 487.4,201.54 488.9,201.54 488.9,201.55 490.4,201.55 490.4,201.56 491.9,201.56 491.9,201.57 493.4,201.57 493.4,201.58 494.9,201.58 494.9,201.6 496.4,201.6 496.4,201.61 497.9,201.61 497.9,201.62 499.4,201.62 499.4,201.63 500.9,201.63 500.9,201.64 502.4,201.64 502.4,201.65 503.9,201.65 503.9,201.66 505.4,201.66 505.4,201.67 506.9,201.67 506.9,201.69 508.4,201.69 508.4,201.7 509.9,201.7 509.9,201.71 511.4,201.71 511.4,201.72 512.9,201.72 512.9,201.73 514.4,201.73 514.4,201.74 515.9,201.74 515.9,201.75 517.4,201.75 517.4,201.76 518.9,201.76 518.9,201.77 520.4,201.77 520.4,201.79 521.9,201.79 521.9,201.8 522.3,201.8 522.3,201.8 523,201.8 523.8,210.6 528.6,210.6 531.4,221.3 678.8,221.3" fill="none" stroke="#e6543e" stroke-width="0.85" stroke-linejoin="round" stroke-linejoin="miter"/>
<polyline points="385.4,180.2 386.9,180.2 386.9,180.72 388.4,180.72 388.4,181.24 389.9,181.24 389.9,181.76 391.4,181.76 391.4,182.24 392.9,182.24 392.9,182.7 394.4,182.7 394.4,183.15 395.9,183.15 395.9,183.8 397.4,183.8 397.4,184.55 398.9,184.55 398.9,186 400.4,186 400.4,187.5 401.9,187.5 401.9,189 403.4,189 403.4,190.5 404.9,190.5 404.9,192 406.4,192 406.4,193.29 407.9,193.29 407.9,194.5 409.4,194.5 409.4,195.82 410.9,195.82 410.9,197.28 412.4,197.28 412.4,199.01 413.9,199.01 413.9,201.2 415.4,201.2 415.4,203.3 416.9,203.3 416.9,204.56 418.4,204.56 418.4,205.18 419.9,205.18 419.9,206.09 421.4,206.09 421.4,207.08 422.9,207.08 422.9,208.07 424.4,208.07 424.4,209.36 425.9,209.36 425.9,214.78 427.4,214.78 427.4,217.11 428.9,217.11 428.9,218.96 430.4,218.96 430.4,220.6 431.9,220.6 431.9,221.81 433.4,221.81 433.4,223.02 434.9,223.02 434.9,224.21 436.4,224.21 436.4,225.4 437.9,225.4 437.9,226.58 439.4,226.58 439.4,227.74 440.9,227.74 440.9,228.75 442.4,228.75 442.4,229.77 443.9,229.77 443.9,230.79 445.4,230.79 445.4,231.88 446.9,231.88 446.9,233.09 448.4,233.09 448.4,234.3 449.9,234.3 449.9,235.1 451.4,235.1 451.4,235.1 452.9,235.1 452.9,235.1 454.4,235.1 454.4,235.1 455.9,235.1 455.9,235.1 457.4,235.1 457.4,235.1 458.9,235.1 458.9,235.1 460.4,235.1 460.4,235.1 460.6,235.1 460.6,235.1 462.2,235.1 462.2,238.4 485.2,238.4 485.2,242.8 511,242.8 518.8,253.6 527.6,253.6 529.1,266.4 548.6,266.4" fill="none" stroke="#48b3d0" stroke-width="0.85" stroke-linejoin="round" stroke-linejoin="miter"/>
<rect x="387.1" y="179.7" width="1.8" height="1.8" fill="#e2452f"/>
<rect x="389.6" y="180.51" width="1.8" height="1.8" fill="#e2452f"/>
<rect x="392.1" y="181.18" width="1.8" height="1.8" fill="#e2452f"/>
<rect x="395.1" y="181.79" width="1.8" height="1.8" fill="#e2452f"/>
<rect x="397.6" y="182.07" width="1.8" height="1.8" fill="#e2452f"/>
<rect x="400.1" y="182.98" width="1.8" height="1.8" fill="#e2452f"/>
<rect x="403.1" y="184.28" width="1.8" height="1.8" fill="#e2452f"/>
<rect x="405.6" y="185.03" width="1.8" height="1.8" fill="#e2452f"/>
<rect x="408.1" y="185.4" width="1.8" height="1.8" fill="#e2452f"/>
<rect x="410.6" y="185.69" width="1.8" height="1.8" fill="#e2452f"/>
<rect x="413.1" y="185.9" width="1.8" height="1.8" fill="#e2452f"/>
<rect x="415.1" y="185.95" width="1.8" height="1.8" fill="#e2452f"/>
<rect x="418.1" y="187.49" width="1.8" height="1.8" fill="#e2452f"/>
<rect x="420.1" y="188.14" width="1.8" height="1.8" fill="#e2452f"/>
<rect x="422.1" y="189.34" width="1.8" height="1.8" fill="#e2452f"/>
<rect x="424.6" y="189.94" width="1.8" height="1.8" fill="#e2452f"/>
<rect x="426.1" y="190.53" width="1.8" height="1.8" fill="#e2452f"/>
<rect x="428.6" y="191.57" width="1.8" height="1.8" fill="#e2452f"/>
<rect x="430.1" y="192.09" width="1.8" height="1.8" fill="#e2452f"/>
<rect x="432.6" y="193.12" width="1.8" height="1.8" fill="#e2452f"/>
<rect x="434.1" y="193.54" width="1.8" height="1.8" fill="#e2452f"/>
<rect x="437.1" y="193.82" width="1.8" height="1.8" fill="#e2452f"/>
<rect x="439.1" y="193.97" width="1.8" height="1.8" fill="#e2452f"/>
<rect x="441.1" y="194.11" width="1.8" height="1.8" fill="#e2452f"/>
<rect x="444.1" y="194.4" width="1.8" height="1.8" fill="#e2452f"/>
<rect x="446.1" y="194.93" width="1.8" height="1.8" fill="#e2452f"/>
<rect x="448.1" y="195.28" width="1.8" height="1.8" fill="#e2452f"/>
<rect x="450.1" y="195.62" width="1.8" height="1.8" fill="#e2452f"/>
<rect x="452.1" y="196.12" width="1.8" height="1.8" fill="#e2452f"/>
<rect x="454.1" y="196.15" width="1.8" height="1.8" fill="#e2452f"/>
<rect x="457.1" y="196.2" width="1.8" height="1.8" fill="#e2452f"/>
<rect x="459.6" y="196.26" width="1.8" height="1.8" fill="#e2452f"/>
<rect x="462.1" y="196.29" width="1.8" height="1.8" fill="#e2452f"/>
<rect x="465.6" y="197.08" width="1.8" height="1.8" fill="#e2452f"/>
<rect x="467.6" y="197.32" width="1.8" height="1.8" fill="#e2452f"/>
<rect x="470.4" y="197.8" width="1.8" height="1.8" fill="#e2452f"/>
<rect x="473.5" y="198.12" width="1.8" height="1.8" fill="#e2452f"/>
<rect x="477.4" y="198.45" width="1.8" height="1.8" fill="#e2452f"/>
<rect x="485.3" y="200.63" width="1.8" height="1.8" fill="#e2452f"/>
<rect x="488.8" y="200.65" width="1.8" height="1.8" fill="#e2452f"/>
<rect x="490.6" y="200.66" width="1.8" height="1.8" fill="#e2452f"/>
<rect x="492.3" y="200.67" width="1.8" height="1.8" fill="#e2452f"/>
<rect x="496.3" y="200.71" width="1.8" height="1.8" fill="#e2452f"/>
<rect x="499.8" y="200.73" width="1.8" height="1.8" fill="#e2452f"/>
<rect x="504.1" y="200.76" width="1.8" height="1.8" fill="#e2452f"/>
<rect x="509.5" y="200.81" width="1.8" height="1.8" fill="#e2452f"/>
<rect x="511.2" y="200.82" width="1.8" height="1.8" fill="#e2452f"/>
<rect x="515.6" y="200.85" width="1.8" height="1.8" fill="#e2452f"/>
<rect x="521.3" y="200.9" width="1.8" height="1.8" fill="#e2452f"/>
<rect x="530.6" y="220.4" width="1.8" height="1.8" fill="#e2452f"/>
<rect x="532.6" y="220.4" width="1.8" height="1.8" fill="#e2452f"/>
<rect x="538" y="220.4" width="1.8" height="1.8" fill="#e2452f"/>
<rect x="553.5" y="220.4" width="1.8" height="1.8" fill="#e2452f"/>
<rect x="562" y="220.4" width="1.8" height="1.8" fill="#e2452f"/>
<rect x="578.9" y="220.4" width="1.8" height="1.8" fill="#e2452f"/>
<rect x="626" y="220.4" width="1.8" height="1.8" fill="#e2452f"/>
<rect x="677.7" y="220.4" width="1.8" height="1.8" fill="#e2452f"/>
<rect x="388.15" y="180.39" width="1.7" height="1.7" fill="#35a6c6"/>
<rect x="391.15" y="181.39" width="1.7" height="1.7" fill="#35a6c6"/>
<rect x="394.15" y="182.3" width="1.7" height="1.7" fill="#35a6c6"/>
<rect x="397.15" y="183.7" width="1.7" height="1.7" fill="#35a6c6"/>
<rect x="401.15" y="188.15" width="1.7" height="1.7" fill="#35a6c6"/>
<rect x="404.15" y="191.15" width="1.7" height="1.7" fill="#35a6c6"/>
<rect x="408.15" y="193.65" width="1.7" height="1.7" fill="#35a6c6"/>
<rect x="410.15" y="196.43" width="1.7" height="1.7" fill="#35a6c6"/>
<rect x="413.15" y="200.35" width="1.7" height="1.7" fill="#35a6c6"/>
<rect x="417.15" y="203.71" width="1.7" height="1.7" fill="#35a6c6"/>
<rect x="421.15" y="206.23" width="1.7" height="1.7" fill="#35a6c6"/>
<rect x="423.65" y="208.51" width="1.7" height="1.7" fill="#35a6c6"/>
<rect x="429.85" y="219.75" width="1.7" height="1.7" fill="#35a6c6"/>
<rect x="434.55" y="223.36" width="1.7" height="1.7" fill="#35a6c6"/>
<rect x="436.05" y="224.55" width="1.7" height="1.7" fill="#35a6c6"/>
<rect x="437.95" y="225.73" width="1.7" height="1.7" fill="#35a6c6"/>
<rect x="443.55" y="229.94" width="1.7" height="1.7" fill="#35a6c6"/>
<rect x="445.45" y="231.03" width="1.7" height="1.7" fill="#35a6c6"/>
<rect x="451.15" y="234.25" width="1.7" height="1.7" fill="#35a6c6"/>
<rect x="459.25" y="234.25" width="1.7" height="1.7" fill="#35a6c6"/>
<rect x="461.65" y="237.55" width="1.7" height="1.7" fill="#35a6c6"/>
<rect x="466.85" y="237.55" width="1.7" height="1.7" fill="#35a6c6"/>
<rect x="468.75" y="237.55" width="1.7" height="1.7" fill="#35a6c6"/>
<rect x="472.55" y="237.55" width="1.7" height="1.7" fill="#35a6c6"/>
<rect x="479.65" y="237.55" width="1.7" height="1.7" fill="#35a6c6"/>
<rect x="482.95" y="237.55" width="1.7" height="1.7" fill="#35a6c6"/>
<rect x="486.25" y="241.95" width="1.7" height="1.7" fill="#35a6c6"/>
<rect x="489.15" y="241.95" width="1.7" height="1.7" fill="#35a6c6"/>
<rect x="504.65" y="241.95" width="1.7" height="1.7" fill="#35a6c6"/>
<rect x="508.15" y="241.95" width="1.7" height="1.7" fill="#35a6c6"/>
<rect x="519.65" y="252.75" width="1.7" height="1.7" fill="#35a6c6"/>
<rect x="540.65" y="265.55" width="1.7" height="1.7" fill="#35a6c6"/>
<rect x="545.15" y="265.55" width="1.7" height="1.7" fill="#35a6c6"/>
<rect x="547.15" y="265.55" width="1.7" height="1.7" fill="#35a6c6"/>
<line x1="381.6" y1="173.5" x2="682.4" y2="173.5" stroke="#8a8a8a" stroke-width="1.2" />
<line x1="682.4" y1="173.5" x2="682.4" y2="335.2" stroke="#8a8a8a" stroke-width="1.2" />
<line x1="381.6" y1="173" x2="381.6" y2="335.7" stroke="#7a7a7a" stroke-width="1.2" />
<line x1="379.4" y1="311" x2="682.9" y2="311" stroke="#8a8a8a" stroke-width="1.4" />
<line x1="381.1" y1="335.2" x2="682.9" y2="335.2" stroke="#8a8a8a" stroke-width="1.4" />
<line x1="379.1" y1="180.6" x2="381.6" y2="180.6" stroke="#666" stroke-width="0.7" />
<text x="377.9" y="182.8" font-size="5.2" fill="#161616" stroke="#161616" stroke-width="0.06" text-anchor="end" font-family='"Liberation Serif", serif' >1.0</text>
<line x1="379.1" y1="211.28" x2="381.6" y2="211.28" stroke="#666" stroke-width="0.7" />
<text x="377.9" y="213.47" font-size="5.2" fill="#161616" stroke="#161616" stroke-width="0.06" text-anchor="end" font-family='"Liberation Serif", serif' >0.8</text>
<line x1="379.1" y1="241.95" x2="381.6" y2="241.95" stroke="#666" stroke-width="0.7" />
<text x="377.9" y="244.15" font-size="5.2" fill="#161616" stroke="#161616" stroke-width="0.06" text-anchor="end" font-family='"Liberation Serif", serif' >0.5</text>
<line x1="379.1" y1="272.62" x2="381.6" y2="272.62" stroke="#666" stroke-width="0.7" />
<text x="377.9" y="274.82" font-size="5.2" fill="#161616" stroke="#161616" stroke-width="0.06" text-anchor="end" font-family='"Liberation Serif", serif' >0.3</text>
<line x1="379.1" y1="303.3" x2="381.6" y2="303.3" stroke="#666" stroke-width="0.7" />
<text x="377.9" y="305.5" font-size="5.2" fill="#161616" stroke="#161616" stroke-width="0.06" text-anchor="end" font-family='"Liberation Serif", serif' >0.0</text>
<text x="0" y="0" font-size="4.3" fill="#161616"  text-anchor="middle" font-family='"Liberation Serif", serif' transform="translate(369.2,240.2) rotate(-90)">Survival probability</text>
<text x="383.3" y="300" font-size="5.0" fill="#0c0c0c" stroke="#0c0c0c" stroke-width="0.06" text-anchor="start" font-family='"Liberation Serif", serif' ><tspan font-style="italic">p</tspan>=7.0e-10</text>
<text x="383.3" y="308" font-size="5.0" fill="#0c0c0c" stroke="#0c0c0c" stroke-width="0.06" text-anchor="start" font-family='"Liberation Serif", serif' >HR=3.51,95%CI(2.29,5.37)</text>
<text x="483.8" y="308.7" font-size="5.3" fill="#3a3a3a"  text-anchor="middle" font-family='"Liberation Serif", serif' >2337</text>
<text x="678.6" y="308.7" font-size="5.3" fill="#3a3a3a"  text-anchor="middle" font-family='"Liberation Serif", serif' >6856</text>
<rect x="683" y="303" width="2" height="7" fill="#fff"/>
<line x1="682.4" y1="300" x2="682.4" y2="312" stroke="#8a8a8a" stroke-width="1.2" />
<text x="655" y="180.3" font-size="4.85" fill="#161616" stroke="#161616" stroke-width="0.03" text-anchor="start" font-family='"Liberation Serif", serif' >RiskScore</text>
<rect x="654.9" y="182.6" width="4" height="4" fill="#e4553f"/>
<rect x="654.9" y="188.8" width="4" height="4" fill="#3eaccb"/>
<text x="661.4" y="186.3" font-size="4.9" fill="#e4553f"  text-anchor="start" font-family='"Liberation Serif", serif' >L</text>
<text x="661.4" y="192.8" font-size="4.9" fill="#3eaccb"  text-anchor="start" font-family='"Liberation Serif", serif' >H</text>
<text x="381.9" y="317.7" font-size="4.9" fill="#0c0c0c" stroke="#0c0c0c" stroke-width="0.06" text-anchor="start" font-family='"Liberation Serif", serif' >Number at risk</text>
<line x1="381.6" y1="319.5" x2="682.4" y2="319.5" stroke="#c8c8c8" stroke-width="0.5" stroke-dasharray="0.8,0.8"/>
<line x1="381.6" y1="327.3" x2="682.4" y2="327.3" stroke="#c8c8c8" stroke-width="0.5" stroke-dasharray="0.8,0.8"/>
<line x1="385.3" y1="311" x2="385.3" y2="335.2" stroke="#cfcfcf" stroke-width="0.5" stroke-dasharray="0.8,0.8"/>
<line x1="385.3" y1="335.2" x2="385.3" y2="337.4" stroke="#555" stroke-width="0.7" />
<text x="385.3" y="341.8" font-size="4.7" fill="#0c0c0c" stroke="#0c0c0c" stroke-width="0.06" text-anchor="middle" font-family='"Liberation Sans", sans-serif' >0</text>
<text x="385.3" y="325.8" font-size="4.7" fill="#e4553f" stroke="#e4553f" stroke-width="0.06" text-anchor="middle" font-family='"Liberation Serif", serif' >375</text>
<text x="385.3" y="333.6" font-size="4.7" fill="#3eaccb" stroke="#3eaccb" stroke-width="0.06" text-anchor="middle" font-family='"Liberation Serif", serif' >164</text>
<line x1="458.65" y1="311" x2="458.65" y2="335.2" stroke="#cfcfcf" stroke-width="0.5" stroke-dasharray="0.8,0.8"/>
<line x1="458.65" y1="335.2" x2="458.65" y2="337.4" stroke="#555" stroke-width="0.7" />
<text x="458.65" y="341.8" font-size="4.7" fill="#0c0c0c" stroke="#0c0c0c" stroke-width="0.06" text-anchor="middle" font-family='"Liberation Sans", sans-serif' >1,714</text>
<text x="458.65" y="325.8" font-size="4.7" fill="#e4553f" stroke="#e4553f" stroke-width="0.06" text-anchor="middle" font-family='"Liberation Serif", serif' >101</text>
<text x="458.65" y="333.6" font-size="4.7" fill="#3eaccb" stroke="#3eaccb" stroke-width="0.06" text-anchor="middle" font-family='"Liberation Serif", serif' >29</text>
<line x1="532" y1="311" x2="532" y2="335.2" stroke="#cfcfcf" stroke-width="0.5" stroke-dasharray="0.8,0.8"/>
<line x1="532" y1="335.2" x2="532" y2="337.4" stroke="#555" stroke-width="0.7" />
<text x="532" y="341.8" font-size="4.7" fill="#0c0c0c" stroke="#0c0c0c" stroke-width="0.06" text-anchor="middle" font-family='"Liberation Sans", sans-serif' >3,428</text>
<text x="532" y="325.8" font-size="4.7" fill="#e4553f" stroke="#e4553f" stroke-width="0.06" text-anchor="middle" font-family='"Liberation Serif", serif' >8</text>
<text x="532" y="333.6" font-size="4.7" fill="#3eaccb" stroke="#3eaccb" stroke-width="0.06" text-anchor="middle" font-family='"Liberation Serif", serif' >1</text>
<line x1="605.35" y1="311" x2="605.35" y2="335.2" stroke="#cfcfcf" stroke-width="0.5" stroke-dasharray="0.8,0.8"/>
<line x1="605.35" y1="335.2" x2="605.35" y2="337.4" stroke="#555" stroke-width="0.7" />
<text x="605.35" y="341.8" font-size="4.7" fill="#0c0c0c" stroke="#0c0c0c" stroke-width="0.06" text-anchor="middle" font-family='"Liberation Sans", sans-serif' >5,142</text>
<text x="605.35" y="325.8" font-size="4.7" fill="#e4553f" stroke="#e4553f" stroke-width="0.06" text-anchor="middle" font-family='"Liberation Serif", serif' >2</text>
<text x="605.35" y="333.6" font-size="4.7" fill="#3eaccb" stroke="#3eaccb" stroke-width="0.06" text-anchor="middle" font-family='"Liberation Serif", serif' >1</text>
<line x1="678.7" y1="311" x2="678.7" y2="335.2" stroke="#cfcfcf" stroke-width="0.5" stroke-dasharray="0.8,0.8"/>
<line x1="678.7" y1="335.2" x2="678.7" y2="337.4" stroke="#555" stroke-width="0.7" />
<text x="678.7" y="341.8" font-size="4.7" fill="#0c0c0c" stroke="#0c0c0c" stroke-width="0.06" text-anchor="middle" font-family='"Liberation Sans", sans-serif' >6,856</text>
<text x="678.7" y="325.8" font-size="4.7" fill="#e4553f" stroke="#e4553f" stroke-width="0.06" text-anchor="middle" font-family='"Liberation Serif", serif' >1</text>
<text x="678.7" y="333.6" font-size="4.7" fill="#3eaccb" stroke="#3eaccb" stroke-width="0.06" text-anchor="middle" font-family='"Liberation Serif", serif' >1</text>
<line x1="381.6" y1="335.2" x2="381.6" y2="337.4" stroke="#555" stroke-width="0.7" />
<text x="377.6" y="325.8" font-size="4.7" fill="#e4553f" stroke="#e4553f" stroke-width="0.06" text-anchor="middle" font-family='"Liberation Serif", serif' >L</text>
<text x="377.3" y="333.6" font-size="4.7" fill="#3eaccb" stroke="#3eaccb" stroke-width="0.06" text-anchor="middle" font-family='"Liberation Serif", serif' >H</text>
<text x="532" y="347.4" font-size="5.4" fill="#0c0c0c" stroke="#0c0c0c" stroke-width="0.06" text-anchor="middle" font-family='"Liberation Sans", sans-serif' >Time</text>
</svg>
</body></html>
